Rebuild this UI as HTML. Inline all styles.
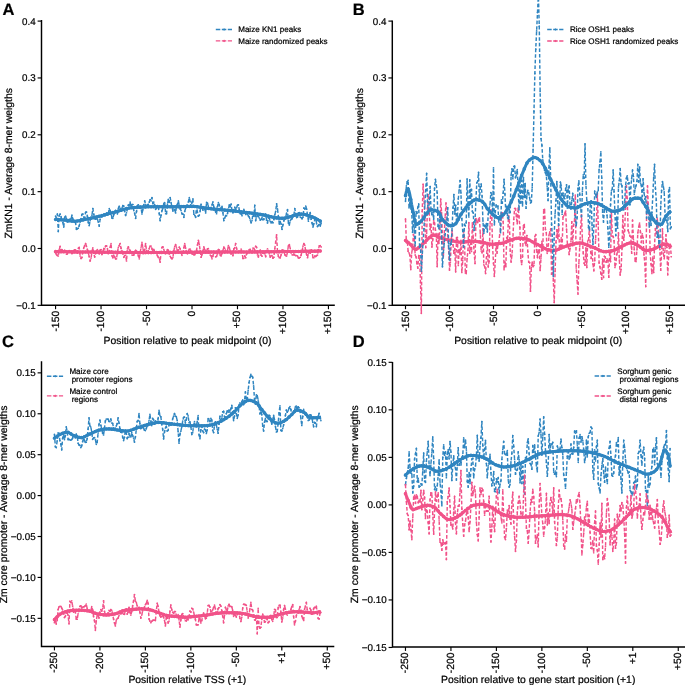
<!DOCTYPE html>
<html><head><meta charset="utf-8"><style>html,body{margin:0;padding:0;background:#fff;width:685px;height:685px;overflow:hidden} svg{display:block}</style></head>
<body>
<svg width="685" height="685" viewBox="0 0 685 685" style="will-change:transform;text-rendering:geometricPrecision" font-family='"Liberation Sans", sans-serif'>
<style>text{fill:#000;stroke:#000;stroke-width:0.22px;paint-order:stroke}</style>
<rect width="685" height="685" fill="#fff"/>
<path d="M41.5,20.0V305.3H334.8" fill="none" stroke="#000" stroke-width="1.45"/>
<path d="M37.60,21.10H41.5" stroke="#000" stroke-width="1.15"/>
<text x="35.60" y="24.50" text-anchor="end" font-size="9.8">0.4</text>
<path d="M37.60,77.95H41.5" stroke="#000" stroke-width="1.15"/>
<text x="35.60" y="81.35" text-anchor="end" font-size="9.8">0.3</text>
<path d="M37.60,134.80H41.5" stroke="#000" stroke-width="1.15"/>
<text x="35.60" y="138.20" text-anchor="end" font-size="9.8">0.2</text>
<path d="M37.60,191.65H41.5" stroke="#000" stroke-width="1.15"/>
<text x="35.60" y="195.05" text-anchor="end" font-size="9.8">0.1</text>
<path d="M37.60,248.50H41.5" stroke="#000" stroke-width="1.15"/>
<text x="35.60" y="251.90" text-anchor="end" font-size="9.8">0.0</text>
<path d="M37.60,305.35H41.5" stroke="#000" stroke-width="1.15"/>
<text x="35.60" y="308.75" text-anchor="end" font-size="9.8">−0.1</text>
<path d="M55.56,305.3V309.20" stroke="#000" stroke-width="1.15"/>
<text transform="translate(58.56,310.80) rotate(-90)" text-anchor="end" font-size="10.4">-150</text>
<path d="M101.04,305.3V309.20" stroke="#000" stroke-width="1.15"/>
<text transform="translate(104.04,310.80) rotate(-90)" text-anchor="end" font-size="10.4">-100</text>
<path d="M146.52,305.3V309.20" stroke="#000" stroke-width="1.15"/>
<text transform="translate(149.52,310.80) rotate(-90)" text-anchor="end" font-size="10.4">-50</text>
<path d="M192.00,305.3V309.20" stroke="#000" stroke-width="1.15"/>
<text transform="translate(195.00,310.80) rotate(-90)" text-anchor="end" font-size="10.4">0</text>
<path d="M237.48,305.3V309.20" stroke="#000" stroke-width="1.15"/>
<text transform="translate(240.48,310.80) rotate(-90)" text-anchor="end" font-size="10.4">+50</text>
<path d="M282.96,305.3V309.20" stroke="#000" stroke-width="1.15"/>
<text transform="translate(285.96,310.80) rotate(-90)" text-anchor="end" font-size="10.4">+100</text>
<path d="M328.44,305.3V309.20" stroke="#000" stroke-width="1.15"/>
<text transform="translate(331.44,310.80) rotate(-90)" text-anchor="end" font-size="10.4">+150</text>
<text x="103.5" y="344.4" font-size="10.4">Position relative to peak midpoint (0)</text>
<text transform="translate(12.4,163.3) rotate(-90)" text-anchor="middle" font-size="10.4">ZmKN1 - Average 8-mer weigths</text>
<text x="2.5" y="14.8" font-size="16.5" font-weight="bold">A</text>
<path d="M392.3,20.5V305.3H685" fill="none" stroke="#000" stroke-width="1.45"/>
<path d="M388.40,21.10H392.3" stroke="#000" stroke-width="1.15"/>
<text x="386.40" y="24.50" text-anchor="end" font-size="9.8">0.4</text>
<path d="M388.40,77.95H392.3" stroke="#000" stroke-width="1.15"/>
<text x="386.40" y="81.35" text-anchor="end" font-size="9.8">0.3</text>
<path d="M388.40,134.80H392.3" stroke="#000" stroke-width="1.15"/>
<text x="386.40" y="138.20" text-anchor="end" font-size="9.8">0.2</text>
<path d="M388.40,191.65H392.3" stroke="#000" stroke-width="1.15"/>
<text x="386.40" y="195.05" text-anchor="end" font-size="9.8">0.1</text>
<path d="M388.40,248.50H392.3" stroke="#000" stroke-width="1.15"/>
<text x="386.40" y="251.90" text-anchor="end" font-size="9.8">0.0</text>
<path d="M388.40,305.35H392.3" stroke="#000" stroke-width="1.15"/>
<text x="386.40" y="308.75" text-anchor="end" font-size="9.8">−0.1</text>
<path d="M405.50,305.3V309.20" stroke="#000" stroke-width="1.15"/>
<text transform="translate(408.50,310.80) rotate(-90)" text-anchor="end" font-size="10.4">-150</text>
<path d="M449.50,305.3V309.20" stroke="#000" stroke-width="1.15"/>
<text transform="translate(452.50,310.80) rotate(-90)" text-anchor="end" font-size="10.4">-100</text>
<path d="M493.50,305.3V309.20" stroke="#000" stroke-width="1.15"/>
<text transform="translate(496.50,310.80) rotate(-90)" text-anchor="end" font-size="10.4">-50</text>
<path d="M537.50,305.3V309.20" stroke="#000" stroke-width="1.15"/>
<text transform="translate(540.50,310.80) rotate(-90)" text-anchor="end" font-size="10.4">0</text>
<path d="M581.50,305.3V309.20" stroke="#000" stroke-width="1.15"/>
<text transform="translate(584.50,310.80) rotate(-90)" text-anchor="end" font-size="10.4">+50</text>
<path d="M625.50,305.3V309.20" stroke="#000" stroke-width="1.15"/>
<text transform="translate(628.50,310.80) rotate(-90)" text-anchor="end" font-size="10.4">+100</text>
<path d="M669.50,305.3V309.20" stroke="#000" stroke-width="1.15"/>
<text transform="translate(672.50,310.80) rotate(-90)" text-anchor="end" font-size="10.4">+150</text>
<text x="454.2" y="344.3" font-size="10.4">Position relative to peak midpoint (0)</text>
<text transform="translate(363.2,163.3) rotate(-90)" text-anchor="middle" font-size="10.4">ZmKN1 - Average 8-mer weigths</text>
<text x="352.8" y="14.8" font-size="16.5" font-weight="bold">B</text>
<path d="M41.5,361.3V646.5H334.3" fill="none" stroke="#000" stroke-width="1.45"/>
<path d="M37.60,372.86H41.5" stroke="#000" stroke-width="1.15"/>
<text x="35.60" y="376.25" text-anchor="end" font-size="9.8">0.15</text>
<path d="M37.60,413.77H41.5" stroke="#000" stroke-width="1.15"/>
<text x="35.60" y="417.17" text-anchor="end" font-size="9.8">0.10</text>
<path d="M37.60,454.69H41.5" stroke="#000" stroke-width="1.15"/>
<text x="35.60" y="458.08" text-anchor="end" font-size="9.8">0.05</text>
<path d="M37.60,495.60H41.5" stroke="#000" stroke-width="1.15"/>
<text x="35.60" y="499.00" text-anchor="end" font-size="9.8">0.00</text>
<path d="M37.60,536.51H41.5" stroke="#000" stroke-width="1.15"/>
<text x="35.60" y="539.91" text-anchor="end" font-size="9.8">−0.05</text>
<path d="M37.60,577.43H41.5" stroke="#000" stroke-width="1.15"/>
<text x="35.60" y="580.83" text-anchor="end" font-size="9.8">−0.10</text>
<path d="M37.60,618.35H41.5" stroke="#000" stroke-width="1.15"/>
<text x="35.60" y="621.75" text-anchor="end" font-size="9.8">−0.15</text>
<path d="M54.45,646.5V650.40" stroke="#000" stroke-width="1.15"/>
<text transform="translate(57.45,652.00) rotate(-90)" text-anchor="end" font-size="10.4">-250</text>
<path d="M99.92,646.5V650.40" stroke="#000" stroke-width="1.15"/>
<text transform="translate(102.92,652.00) rotate(-90)" text-anchor="end" font-size="10.4">-200</text>
<path d="M145.39,646.5V650.40" stroke="#000" stroke-width="1.15"/>
<text transform="translate(148.39,652.00) rotate(-90)" text-anchor="end" font-size="10.4">-150</text>
<path d="M190.86,646.5V650.40" stroke="#000" stroke-width="1.15"/>
<text transform="translate(193.86,652.00) rotate(-90)" text-anchor="end" font-size="10.4">-100</text>
<path d="M236.33,646.5V650.40" stroke="#000" stroke-width="1.15"/>
<text transform="translate(239.33,652.00) rotate(-90)" text-anchor="end" font-size="10.4">-50</text>
<path d="M281.80,646.5V650.40" stroke="#000" stroke-width="1.15"/>
<text transform="translate(284.80,652.00) rotate(-90)" text-anchor="end" font-size="10.4">+1</text>
<path d="M327.27,646.5V650.40" stroke="#000" stroke-width="1.15"/>
<text transform="translate(330.27,652.00) rotate(-90)" text-anchor="end" font-size="10.4">+50</text>
<text x="128.4" y="682.5" font-size="10.4">Position relative TSS (+1)</text>
<text transform="translate(7.0,504.4) rotate(-90)" text-anchor="middle" font-size="10.4">Zm core promoter - Average 8-mer weigths</text>
<text x="2.0" y="346.8" font-size="16.5" font-weight="bold">C</text>
<path d="M392.5,362.0V647H685" fill="none" stroke="#000" stroke-width="1.45"/>
<path d="M388.60,362.32H392.5" stroke="#000" stroke-width="1.15"/>
<text x="386.60" y="365.72" text-anchor="end" font-size="9.8">0.15</text>
<path d="M388.60,409.85H392.5" stroke="#000" stroke-width="1.15"/>
<text x="386.60" y="413.25" text-anchor="end" font-size="9.8">0.10</text>
<path d="M388.60,457.38H392.5" stroke="#000" stroke-width="1.15"/>
<text x="386.60" y="460.77" text-anchor="end" font-size="9.8">0.05</text>
<path d="M388.60,504.90H392.5" stroke="#000" stroke-width="1.15"/>
<text x="386.60" y="508.30" text-anchor="end" font-size="9.8">0.00</text>
<path d="M388.60,552.42H392.5" stroke="#000" stroke-width="1.15"/>
<text x="386.60" y="555.82" text-anchor="end" font-size="9.8">−0.05</text>
<path d="M388.60,599.95H392.5" stroke="#000" stroke-width="1.15"/>
<text x="386.60" y="603.35" text-anchor="end" font-size="9.8">−0.10</text>
<path d="M388.60,647.47H392.5" stroke="#000" stroke-width="1.15"/>
<text x="386.60" y="650.87" text-anchor="end" font-size="9.8">−0.15</text>
<path d="M405.47,647V650.90" stroke="#000" stroke-width="1.15"/>
<text transform="translate(408.47,652.50) rotate(-90)" text-anchor="end" font-size="10.4">-250</text>
<path d="M450.94,647V650.90" stroke="#000" stroke-width="1.15"/>
<text transform="translate(453.94,652.50) rotate(-90)" text-anchor="end" font-size="10.4">-200</text>
<path d="M496.40,647V650.90" stroke="#000" stroke-width="1.15"/>
<text transform="translate(499.40,652.50) rotate(-90)" text-anchor="end" font-size="10.4">-150</text>
<path d="M541.87,647V650.90" stroke="#000" stroke-width="1.15"/>
<text transform="translate(544.87,652.50) rotate(-90)" text-anchor="end" font-size="10.4">-100</text>
<path d="M587.33,647V650.90" stroke="#000" stroke-width="1.15"/>
<text transform="translate(590.33,652.50) rotate(-90)" text-anchor="end" font-size="10.4">-50</text>
<path d="M632.80,647V650.90" stroke="#000" stroke-width="1.15"/>
<text transform="translate(635.80,652.50) rotate(-90)" text-anchor="end" font-size="10.4">+1</text>
<path d="M678.26,647V650.90" stroke="#000" stroke-width="1.15"/>
<text transform="translate(681.26,652.50) rotate(-90)" text-anchor="end" font-size="10.4">+50</text>
<text x="441.0" y="682.5" font-size="10.4">Position relative to gene start position (+1)</text>
<text transform="translate(357.9,504.3) rotate(-90)" text-anchor="middle" font-size="10.4">Zm core promoter - Average 8-mer weigths</text>
<text x="352.8" y="346.8" font-size="16.5" font-weight="bold">D</text>
<polyline points="55.56,216.14 56.47,218.43 57.38,214.05 58.29,231.50 59.20,215.78 60.11,214.05 61.02,216.68 61.93,219.82 62.84,222.52 63.75,227.12 64.66,217.18 65.57,216.21 66.48,218.97 67.38,221.93 68.29,221.58 69.20,219.29 70.11,219.14 71.02,218.91 71.93,215.13 72.84,218.96 73.75,220.78 74.66,221.68 75.57,222.81 76.48,229.34 77.39,228.72 78.30,228.14 79.21,225.73 80.12,222.03 81.03,218.72 81.94,214.41 82.85,214.05 83.76,217.01 84.67,218.15 85.58,212.29 86.49,212.10 87.40,216.16 88.31,222.60 89.22,225.52 90.12,220.69 91.03,217.56 91.94,215.42 92.85,208.59 93.76,214.17 94.67,218.77 95.58,219.18 96.49,216.73 97.40,219.13 98.31,222.10 99.22,226.04 100.13,219.26 101.04,216.81 101.95,216.75 102.86,215.12 103.77,213.99 104.68,214.55 105.59,215.31 106.50,212.99 107.41,213.60 108.32,213.40 109.23,208.59 110.14,210.68 111.05,212.79 111.96,218.18 112.86,218.31 113.77,214.59 114.68,213.07 115.59,210.42 116.50,211.41 117.41,213.83 118.32,208.42 119.23,206.37 120.14,208.39 121.05,211.24 121.96,208.14 122.87,205.56 123.78,206.16 124.69,211.57 125.60,215.40 126.51,212.74 127.42,208.86 128.33,205.00 129.24,205.12 130.15,202.00 131.06,207.28 131.97,204.61 132.88,204.51 133.79,210.60 134.70,213.62 135.60,218.37 136.51,211.47 137.42,205.73 138.33,204.77 139.24,207.55 140.15,206.29 141.06,207.85 141.97,213.88 142.88,209.59 143.79,204.92 144.70,200.92 145.61,204.82 146.52,205.84 147.43,205.03 148.34,204.38 149.25,202.16 150.16,199.64 151.07,200.81 151.98,197.68 152.89,203.59 153.80,202.05 154.71,205.11 155.62,209.28 156.53,207.84 157.44,205.55 158.34,207.13 159.25,213.54 160.16,220.59 161.07,215.16 161.98,210.72 162.89,208.49 163.80,203.24 164.71,202.55 165.62,213.74 166.53,213.74 167.44,204.21 168.35,199.29 169.26,202.35 170.17,197.68 171.08,202.53 171.99,207.34 172.90,210.91 173.81,208.98 174.72,209.86 175.63,212.91 176.54,205.60 177.45,204.31 178.36,200.92 179.27,205.60 180.18,208.90 181.08,210.58 181.99,213.85 182.90,214.07 183.81,217.29 184.72,211.35 185.63,208.15 186.54,205.47 187.45,205.58 188.36,202.02 189.27,197.68 190.18,201.77 191.09,206.73 192.00,202.28 192.91,198.76 193.82,214.13 194.73,215.23 195.64,217.29 196.55,206.02 197.46,212.46 198.37,216.21 199.28,215.24 200.19,210.87 201.10,204.35 202.01,207.85 202.92,210.03 203.82,207.99 204.73,208.70 205.64,212.91 206.55,202.26 207.46,203.13 208.37,206.48 209.28,208.90 210.19,209.01 211.10,207.27 212.01,204.91 212.92,202.00 213.83,207.19 214.74,208.63 215.65,212.10 216.56,213.69 217.47,206.72 218.38,202.49 219.29,204.90 220.20,209.90 221.11,207.53 222.02,206.37 222.93,212.79 223.84,220.59 224.75,218.10 225.66,215.54 226.56,215.69 227.47,213.53 228.38,209.51 229.29,204.75 230.20,206.71 231.11,204.21 232.02,210.33 232.93,212.72 233.84,209.51 234.75,207.28 235.66,209.70 236.57,207.78 237.48,205.29 238.39,204.92 239.30,209.94 240.21,213.60 241.12,213.71 242.03,215.71 242.94,213.34 243.85,209.29 244.76,212.96 245.67,214.39 246.58,212.37 247.49,214.57 248.40,215.94 249.30,217.11 250.21,220.06 251.12,222.75 252.03,220.39 252.94,213.53 253.85,216.13 254.76,205.29 255.67,220.59 256.58,216.79 257.49,215.35 258.40,216.52 259.31,218.05 260.22,220.07 261.13,219.37 262.04,217.31 262.95,219.66 263.86,219.40 264.77,214.56 265.68,214.02 266.59,220.30 267.50,222.93 268.41,217.89 269.32,218.36 270.23,221.51 271.14,222.75 272.04,221.67 272.95,222.67 273.86,219.52 274.77,214.91 275.68,211.24 276.59,203.76 277.50,208.97 278.41,216.69 279.32,224.08 280.23,221.52 281.14,224.20 282.05,229.34 282.96,224.75 283.87,220.80 284.78,218.73 285.69,217.17 286.60,213.19 287.51,209.67 288.42,223.33 289.33,224.96 290.24,220.61 291.15,219.44 292.06,218.63 292.97,216.45 293.88,214.86 294.78,208.59 295.69,213.44 296.60,217.54 297.51,217.10 298.42,212.79 299.33,212.64 300.24,217.10 301.15,217.60 302.06,218.74 302.97,217.04 303.88,208.04 304.79,208.99 305.70,205.98 306.61,209.22 307.52,214.93 308.43,221.23 309.34,215.26 310.25,212.62 311.16,219.17 312.07,222.97 312.98,227.12 313.89,223.60 314.80,219.57 315.71,218.14 316.62,223.78 317.52,226.47 318.43,225.36 319.34,224.42 320.25,226.04 321.16,223.02" fill="none" stroke="#2f85c0" stroke-width="1.45" stroke-dasharray="3.6,2.0" stroke-linejoin="round"/>
<path d="M55.56,216.14h0.01M56.47,218.43h0.01M57.38,214.05h0.01M58.29,231.50h0.01M59.20,215.78h0.01M60.11,214.05h0.01M61.02,216.68h0.01M61.93,219.82h0.01M62.84,222.52h0.01M63.75,227.12h0.01M64.66,217.18h0.01M65.57,216.21h0.01M66.48,218.97h0.01M67.38,221.93h0.01M68.29,221.58h0.01M69.20,219.29h0.01M70.11,219.14h0.01M71.02,218.91h0.01M71.93,215.13h0.01M72.84,218.96h0.01M73.75,220.78h0.01M74.66,221.68h0.01M75.57,222.81h0.01M76.48,229.34h0.01M77.39,228.72h0.01M78.30,228.14h0.01M79.21,225.73h0.01M80.12,222.03h0.01M81.03,218.72h0.01M81.94,214.41h0.01M82.85,214.05h0.01M83.76,217.01h0.01M84.67,218.15h0.01M85.58,212.29h0.01M86.49,212.10h0.01M87.40,216.16h0.01M88.31,222.60h0.01M89.22,225.52h0.01M90.12,220.69h0.01M91.03,217.56h0.01M91.94,215.42h0.01M92.85,208.59h0.01M93.76,214.17h0.01M94.67,218.77h0.01M95.58,219.18h0.01M96.49,216.73h0.01M97.40,219.13h0.01M98.31,222.10h0.01M99.22,226.04h0.01M100.13,219.26h0.01M101.04,216.81h0.01M101.95,216.75h0.01M102.86,215.12h0.01M103.77,213.99h0.01M104.68,214.55h0.01M105.59,215.31h0.01M106.50,212.99h0.01M107.41,213.60h0.01M108.32,213.40h0.01M109.23,208.59h0.01M110.14,210.68h0.01M111.05,212.79h0.01M111.96,218.18h0.01M112.86,218.31h0.01M113.77,214.59h0.01M114.68,213.07h0.01M115.59,210.42h0.01M116.50,211.41h0.01M117.41,213.83h0.01M118.32,208.42h0.01M119.23,206.37h0.01M120.14,208.39h0.01M121.05,211.24h0.01M121.96,208.14h0.01M122.87,205.56h0.01M123.78,206.16h0.01M124.69,211.57h0.01M125.60,215.40h0.01M126.51,212.74h0.01M127.42,208.86h0.01M128.33,205.00h0.01M129.24,205.12h0.01M130.15,202.00h0.01M131.06,207.28h0.01M131.97,204.61h0.01M132.88,204.51h0.01M133.79,210.60h0.01M134.70,213.62h0.01M135.60,218.37h0.01M136.51,211.47h0.01M137.42,205.73h0.01M138.33,204.77h0.01M139.24,207.55h0.01M140.15,206.29h0.01M141.06,207.85h0.01M141.97,213.88h0.01M142.88,209.59h0.01M143.79,204.92h0.01M144.70,200.92h0.01M145.61,204.82h0.01M146.52,205.84h0.01M147.43,205.03h0.01M148.34,204.38h0.01M149.25,202.16h0.01M150.16,199.64h0.01M151.07,200.81h0.01M151.98,197.68h0.01M152.89,203.59h0.01M153.80,202.05h0.01M154.71,205.11h0.01M155.62,209.28h0.01M156.53,207.84h0.01M157.44,205.55h0.01M158.34,207.13h0.01M159.25,213.54h0.01M160.16,220.59h0.01M161.07,215.16h0.01M161.98,210.72h0.01M162.89,208.49h0.01M163.80,203.24h0.01M164.71,202.55h0.01M165.62,213.74h0.01M166.53,213.74h0.01M167.44,204.21h0.01M168.35,199.29h0.01M169.26,202.35h0.01M170.17,197.68h0.01M171.08,202.53h0.01M171.99,207.34h0.01M172.90,210.91h0.01M173.81,208.98h0.01M174.72,209.86h0.01M175.63,212.91h0.01M176.54,205.60h0.01M177.45,204.31h0.01M178.36,200.92h0.01M179.27,205.60h0.01M180.18,208.90h0.01M181.08,210.58h0.01M181.99,213.85h0.01M182.90,214.07h0.01M183.81,217.29h0.01M184.72,211.35h0.01M185.63,208.15h0.01M186.54,205.47h0.01M187.45,205.58h0.01M188.36,202.02h0.01M189.27,197.68h0.01M190.18,201.77h0.01M191.09,206.73h0.01M192.00,202.28h0.01M192.91,198.76h0.01M193.82,214.13h0.01M194.73,215.23h0.01M195.64,217.29h0.01M196.55,206.02h0.01M197.46,212.46h0.01M198.37,216.21h0.01M199.28,215.24h0.01M200.19,210.87h0.01M201.10,204.35h0.01M202.01,207.85h0.01M202.92,210.03h0.01M203.82,207.99h0.01M204.73,208.70h0.01M205.64,212.91h0.01M206.55,202.26h0.01M207.46,203.13h0.01M208.37,206.48h0.01M209.28,208.90h0.01M210.19,209.01h0.01M211.10,207.27h0.01M212.01,204.91h0.01M212.92,202.00h0.01M213.83,207.19h0.01M214.74,208.63h0.01M215.65,212.10h0.01M216.56,213.69h0.01M217.47,206.72h0.01M218.38,202.49h0.01M219.29,204.90h0.01M220.20,209.90h0.01M221.11,207.53h0.01M222.02,206.37h0.01M222.93,212.79h0.01M223.84,220.59h0.01M224.75,218.10h0.01M225.66,215.54h0.01M226.56,215.69h0.01M227.47,213.53h0.01M228.38,209.51h0.01M229.29,204.75h0.01M230.20,206.71h0.01M231.11,204.21h0.01M232.02,210.33h0.01M232.93,212.72h0.01M233.84,209.51h0.01M234.75,207.28h0.01M235.66,209.70h0.01M236.57,207.78h0.01M237.48,205.29h0.01M238.39,204.92h0.01M239.30,209.94h0.01M240.21,213.60h0.01M241.12,213.71h0.01M242.03,215.71h0.01M242.94,213.34h0.01M243.85,209.29h0.01M244.76,212.96h0.01M245.67,214.39h0.01M246.58,212.37h0.01M247.49,214.57h0.01M248.40,215.94h0.01M249.30,217.11h0.01M250.21,220.06h0.01M251.12,222.75h0.01M252.03,220.39h0.01M252.94,213.53h0.01M253.85,216.13h0.01M254.76,205.29h0.01M255.67,220.59h0.01M256.58,216.79h0.01M257.49,215.35h0.01M258.40,216.52h0.01M259.31,218.05h0.01M260.22,220.07h0.01M261.13,219.37h0.01M262.04,217.31h0.01M262.95,219.66h0.01M263.86,219.40h0.01M264.77,214.56h0.01M265.68,214.02h0.01M266.59,220.30h0.01M267.50,222.93h0.01M268.41,217.89h0.01M269.32,218.36h0.01M270.23,221.51h0.01M271.14,222.75h0.01M272.04,221.67h0.01M272.95,222.67h0.01M273.86,219.52h0.01M274.77,214.91h0.01M275.68,211.24h0.01M276.59,203.76h0.01M277.50,208.97h0.01M278.41,216.69h0.01M279.32,224.08h0.01M280.23,221.52h0.01M281.14,224.20h0.01M282.05,229.34h0.01M282.96,224.75h0.01M283.87,220.80h0.01M284.78,218.73h0.01M285.69,217.17h0.01M286.60,213.19h0.01M287.51,209.67h0.01M288.42,223.33h0.01M289.33,224.96h0.01M290.24,220.61h0.01M291.15,219.44h0.01M292.06,218.63h0.01M292.97,216.45h0.01M293.88,214.86h0.01M294.78,208.59h0.01M295.69,213.44h0.01M296.60,217.54h0.01M297.51,217.10h0.01M298.42,212.79h0.01M299.33,212.64h0.01M300.24,217.10h0.01M301.15,217.60h0.01M302.06,218.74h0.01M302.97,217.04h0.01M303.88,208.04h0.01M304.79,208.99h0.01M305.70,205.98h0.01M306.61,209.22h0.01M307.52,214.93h0.01M308.43,221.23h0.01M309.34,215.26h0.01M310.25,212.62h0.01M311.16,219.17h0.01M312.07,222.97h0.01M312.98,227.12h0.01M313.89,223.60h0.01M314.80,219.57h0.01M315.71,218.14h0.01M316.62,223.78h0.01M317.52,226.47h0.01M318.43,225.36h0.01M319.34,224.42h0.01M320.25,226.04h0.01M321.16,223.02h0.01" stroke="#2f85c0" stroke-width="1.7" stroke-linecap="round" fill="none"/>
<polyline points="55.56,219.55 56.47,219.58 57.38,219.61 58.29,219.66 59.20,219.71 60.11,219.76 61.02,219.82 61.93,219.88 62.84,219.94 63.75,220.01 64.66,220.07 65.57,220.16 66.48,220.28 67.38,220.42 68.29,220.57 69.20,220.73 70.11,220.88 71.02,221.01 71.93,221.12 72.84,221.19 73.75,221.21 74.66,221.19 75.57,221.14 76.48,221.06 77.39,220.95 78.30,220.82 79.21,220.66 80.12,220.49 81.03,220.31 81.94,220.11 82.85,219.91 83.76,219.71 84.67,219.51 85.58,219.31 86.49,219.12 87.40,218.94 88.31,218.76 89.22,218.58 90.12,218.39 91.03,218.20 91.94,218.01 92.85,217.81 93.76,217.60 94.67,217.40 95.58,217.19 96.49,216.97 97.40,216.76 98.31,216.54 99.22,216.32 100.13,216.10 101.04,215.87 101.95,215.63 102.86,215.40 103.77,215.15 104.68,214.90 105.59,214.65 106.50,214.39 107.41,214.14 108.32,213.88 109.23,213.62 110.14,213.36 111.05,213.11 111.96,212.85 112.86,212.60 113.77,212.36 114.68,212.12 115.59,211.87 116.50,211.61 117.41,211.35 118.32,211.07 119.23,210.79 120.14,210.51 121.05,210.23 121.96,209.95 122.87,209.67 123.78,209.40 124.69,209.14 125.60,208.89 126.51,208.65 127.42,208.43 128.33,208.23 129.24,208.04 130.15,207.89 131.06,207.75 131.97,207.64 132.88,207.57 133.79,207.51 134.70,207.45 135.60,207.39 136.51,207.34 137.42,207.28 138.33,207.23 139.24,207.18 140.15,207.14 141.06,207.09 141.97,207.05 142.88,207.01 143.79,206.97 144.70,206.93 145.61,206.90 146.52,206.87 147.43,206.84 148.34,206.82 149.25,206.79 150.16,206.77 151.07,206.76 151.98,206.74 152.89,206.73 153.80,206.72 154.71,206.72 155.62,206.72 156.53,206.72 157.44,206.72 158.34,206.72 159.25,206.72 160.16,206.72 161.07,206.72 161.98,206.72 162.89,206.72 163.80,206.72 164.71,206.72 165.62,206.72 166.53,206.72 167.44,206.72 168.35,206.72 169.26,206.72 170.17,206.72 171.08,206.72 171.99,206.72 172.90,206.72 173.81,206.72 174.72,206.72 175.63,206.72 176.54,206.72 177.45,206.71 178.36,206.70 179.27,206.69 180.18,206.68 181.08,206.66 181.99,206.63 182.90,206.61 183.81,206.59 184.72,206.56 185.63,206.54 186.54,206.51 187.45,206.49 188.36,206.47 189.27,206.45 190.18,206.44 191.09,206.43 192.00,206.43 192.91,206.44 193.82,206.48 194.73,206.53 195.64,206.60 196.55,206.69 197.46,206.80 198.37,206.91 199.28,207.04 200.19,207.18 201.10,207.32 202.01,207.47 202.92,207.62 203.82,207.77 204.73,207.92 205.64,208.07 206.55,208.21 207.46,208.35 208.37,208.48 209.28,208.60 210.19,208.70 211.10,208.80 212.01,208.90 212.92,208.99 213.83,209.08 214.74,209.17 215.65,209.26 216.56,209.34 217.47,209.43 218.38,209.51 219.29,209.60 220.20,209.68 221.11,209.76 222.02,209.84 222.93,209.92 223.84,210.00 224.75,210.09 225.66,210.17 226.56,210.25 227.47,210.34 228.38,210.42 229.29,210.51 230.20,210.60 231.11,210.69 232.02,210.78 232.93,210.88 233.84,210.98 234.75,211.08 235.66,211.18 236.57,211.28 237.48,211.39 238.39,211.49 239.30,211.60 240.21,211.71 241.12,211.81 242.03,211.92 242.94,212.03 243.85,212.14 244.76,212.26 245.67,212.37 246.58,212.49 247.49,212.60 248.40,212.72 249.30,212.84 250.21,212.96 251.12,213.09 252.03,213.21 252.94,213.33 253.85,213.46 254.76,213.59 255.67,213.72 256.58,213.85 257.49,213.98 258.40,214.12 259.31,214.25 260.22,214.39 261.13,214.54 262.04,214.70 262.95,214.88 263.86,215.07 264.77,215.27 265.68,215.48 266.59,215.69 267.50,215.91 268.41,216.14 269.32,216.36 270.23,216.58 271.14,216.79 272.04,217.01 272.95,217.21 273.86,217.40 274.77,217.58 275.68,217.75 276.59,217.90 277.50,218.04 278.41,218.15 279.32,218.24 280.23,218.31 281.14,218.35 282.05,218.37 282.96,218.34 283.87,218.26 284.78,218.13 285.69,217.96 286.60,217.76 287.51,217.52 288.42,217.26 289.33,216.98 290.24,216.69 291.15,216.39 292.06,216.09 292.97,215.78 293.88,215.49 294.78,215.21 295.69,214.95 296.60,214.72 297.51,214.51 298.42,214.34 299.33,214.21 300.24,214.13 301.15,214.11 302.06,214.13 302.97,214.22 303.88,214.35 304.79,214.53 305.70,214.74 306.61,214.99 307.52,215.27 308.43,215.57 309.34,215.89 310.25,216.22 311.16,216.56 312.07,216.90 312.98,217.23 313.89,217.59 314.80,218.00 315.71,218.45 316.62,218.93 317.52,219.46 318.43,220.01 319.34,220.58 320.25,221.17 321.16,221.78" fill="none" stroke="#2f85c0" stroke-width="3.0" stroke-linejoin="round"/>
<path d="M55.56,219.55h0.01M58.29,219.66h0.01M61.02,219.82h0.01M63.75,220.01h0.01M66.48,220.28h0.01M69.20,220.73h0.01M71.93,221.12h0.01M74.66,221.19h0.01M77.39,220.95h0.01M80.12,220.49h0.01M82.85,219.91h0.01M85.58,219.31h0.01M88.31,218.76h0.01M91.03,218.20h0.01M93.76,217.60h0.01M96.49,216.97h0.01M99.22,216.32h0.01M101.95,215.63h0.01M104.68,214.90h0.01M107.41,214.14h0.01M110.14,213.36h0.01M112.86,212.60h0.01M115.59,211.87h0.01M118.32,211.07h0.01M121.05,210.23h0.01M123.78,209.40h0.01M126.51,208.65h0.01M129.24,208.04h0.01M131.97,207.64h0.01M134.70,207.45h0.01M137.42,207.28h0.01M140.15,207.14h0.01M142.88,207.01h0.01M145.61,206.90h0.01M148.34,206.82h0.01M151.07,206.76h0.01M153.80,206.72h0.01M156.53,206.72h0.01M159.25,206.72h0.01M161.98,206.72h0.01M164.71,206.72h0.01M167.44,206.72h0.01M170.17,206.72h0.01M172.90,206.72h0.01M175.63,206.72h0.01M178.36,206.70h0.01M181.08,206.66h0.01M183.81,206.59h0.01M186.54,206.51h0.01M189.27,206.45h0.01M192.00,206.43h0.01M194.73,206.53h0.01M197.46,206.80h0.01M200.19,207.18h0.01M202.92,207.62h0.01M205.64,208.07h0.01M208.37,208.48h0.01M211.10,208.80h0.01M213.83,209.08h0.01M216.56,209.34h0.01M219.29,209.60h0.01M222.02,209.84h0.01M224.75,210.09h0.01M227.47,210.34h0.01M230.20,210.60h0.01M232.93,210.88h0.01M235.66,211.18h0.01M238.39,211.49h0.01M241.12,211.81h0.01M243.85,212.14h0.01M246.58,212.49h0.01M249.30,212.84h0.01M252.03,213.21h0.01M254.76,213.59h0.01M257.49,213.98h0.01M260.22,214.39h0.01M262.95,214.88h0.01M265.68,215.48h0.01M268.41,216.14h0.01M271.14,216.79h0.01M273.86,217.40h0.01M276.59,217.90h0.01M279.32,218.24h0.01M282.05,218.37h0.01M284.78,218.13h0.01M287.51,217.52h0.01M290.24,216.69h0.01M292.97,215.78h0.01M295.69,214.95h0.01M298.42,214.34h0.01M301.15,214.11h0.01M303.88,214.35h0.01M306.61,214.99h0.01M309.34,215.89h0.01M312.07,216.90h0.01M314.80,218.00h0.01M317.52,219.46h0.01M320.25,221.17h0.01" stroke="#2f85c0" stroke-width="3.6" stroke-linecap="round" fill="none"/>
<polyline points="55.56,252.57 56.47,254.59 57.38,255.55 58.29,256.00 59.20,249.88 60.11,246.44 61.02,249.93 61.93,249.62 62.84,250.64 63.75,251.53 64.66,250.23 65.57,251.73 66.48,254.24 67.38,253.83 68.29,251.78 69.20,250.70 70.11,251.29 71.02,252.60 71.93,253.59 72.84,253.00 73.75,250.51 74.66,249.73 75.57,250.14 76.48,251.71 77.39,253.08 78.30,248.29 79.21,247.40 80.12,256.08 81.03,258.45 81.94,257.42 82.85,251.56 83.76,247.87 84.67,245.44 85.58,243.50 86.49,246.44 87.40,249.65 88.31,252.94 89.22,256.71 90.12,261.01 91.03,258.08 91.94,251.79 92.85,247.80 93.76,253.24 94.67,257.00 95.58,253.86 96.49,250.55 97.40,249.61 98.31,251.41 99.22,253.98 100.13,250.20 101.04,249.71 101.95,254.51 102.86,252.07 103.77,248.49 104.68,248.89 105.59,246.01 106.50,245.77 107.41,248.57 108.32,253.75 109.23,251.84 110.14,247.25 111.05,243.50 111.96,255.70 112.86,257.71 113.77,255.21 114.68,256.79 115.59,258.84 116.50,258.85 117.41,252.33 118.32,247.42 119.23,245.57 120.14,243.50 121.05,248.15 121.96,250.49 122.87,253.74 123.78,257.30 124.69,255.58 125.60,255.28 126.51,261.01 127.42,248.78 128.33,246.79 129.24,249.85 130.15,250.27 131.06,252.63 131.97,254.98 132.88,255.24 133.79,255.00 134.70,251.71 135.60,250.30 136.51,251.32 137.42,252.30 138.33,255.84 139.24,258.79 140.15,252.49 141.06,247.77 141.97,242.42 142.88,247.95 143.79,253.59 144.70,249.40 145.61,243.50 146.52,250.25 147.43,252.67 148.34,250.57 149.25,248.59 150.16,246.11 151.07,246.10 151.98,248.90 152.89,250.79 153.80,249.44 154.71,251.52 155.62,252.65 156.53,253.37 157.44,255.64 158.34,257.45 159.25,257.99 160.16,262.09 161.07,251.83 161.98,247.38 162.89,246.79 163.80,249.29 164.71,253.00 165.62,253.86 166.53,251.96 167.44,249.54 168.35,250.13 169.26,253.94 170.17,256.26 171.08,257.78 171.99,258.79 172.90,257.56 173.81,250.91 174.72,246.44 175.63,244.58 176.54,247.91 177.45,250.95 178.36,249.89 179.27,247.20 180.18,248.83 181.08,252.26 181.99,255.32 182.90,253.15 183.81,247.94 184.72,243.50 185.63,248.21 186.54,252.84 187.45,253.81 188.36,251.40 189.27,249.06 190.18,249.07 191.09,251.49 192.00,253.96 192.91,254.18 193.82,254.75 194.73,254.75 195.64,253.23 196.55,250.18 197.46,245.01 198.37,240.26 199.28,244.38 200.19,250.77 201.10,257.21 202.01,254.62 202.92,251.29 203.82,246.79 204.73,249.74 205.64,251.05 206.55,251.85 207.46,248.90 208.37,248.63 209.28,251.97 210.19,255.10 211.10,255.81 212.01,258.79 212.92,256.03 213.83,251.54 214.74,251.99 215.65,256.73 216.56,256.28 217.47,253.88 218.38,249.56 219.29,249.80 220.20,255.28 221.11,255.96 222.02,253.37 222.93,250.48 223.84,247.12 224.75,248.27 225.66,251.02 226.56,252.10 227.47,250.57 228.38,245.71 229.29,247.40 230.20,251.01 231.11,253.91 232.02,252.48 232.93,255.55 233.84,248.94 234.75,247.71 235.66,243.50 236.57,248.47 237.48,251.94 238.39,251.64 239.30,251.41 240.21,251.23 241.12,249.07 242.03,251.72 242.94,258.47 243.85,258.32 244.76,255.96 245.67,257.71 246.58,254.11 247.49,253.08 248.40,251.49 249.30,249.69 250.21,249.47 251.12,252.00 252.03,252.63 252.94,248.07 253.85,248.26 254.76,250.42 255.67,246.28 256.58,247.34 257.49,254.90 258.40,256.96 259.31,251.91 260.22,250.22 261.13,255.24 262.04,256.11 262.95,252.02 263.86,253.37 264.77,253.64 265.68,256.63 266.59,251.54 267.50,248.76 268.41,250.81 269.32,253.78 270.23,257.08 271.14,255.70 272.04,255.51 272.95,258.22 273.86,257.21 274.77,248.83 275.68,241.86 276.59,234.80 277.50,251.78 278.41,256.31 279.32,257.71 280.23,257.90 281.14,254.74 282.05,250.19 282.96,250.09 283.87,251.68 284.78,254.66 285.69,255.63 286.60,256.12 287.51,251.74 288.42,245.63 289.33,244.58 290.24,248.61 291.15,252.76 292.06,254.76 292.97,255.00 293.88,254.10 294.78,255.00 295.69,255.74 296.60,255.50 297.51,256.07 298.42,257.91 299.33,257.90 300.24,257.25 301.15,255.05 302.06,251.14 302.97,246.17 303.88,243.50 304.79,245.20 305.70,251.44 306.61,254.51 307.52,257.71 308.43,253.08 309.34,251.22 310.25,253.21 311.16,249.87 312.07,251.63 312.98,257.68 313.89,257.67 314.80,256.09 315.71,256.49 316.62,255.55 317.52,255.10 318.43,249.62 319.34,245.79 320.25,245.71 321.16,246.96" fill="none" stroke="#f15289" stroke-width="1.45" stroke-dasharray="3.6,2.0" stroke-linejoin="round"/>
<path d="M55.56,252.57h0.01M56.47,254.59h0.01M57.38,255.55h0.01M58.29,256.00h0.01M59.20,249.88h0.01M60.11,246.44h0.01M61.02,249.93h0.01M61.93,249.62h0.01M62.84,250.64h0.01M63.75,251.53h0.01M64.66,250.23h0.01M65.57,251.73h0.01M66.48,254.24h0.01M67.38,253.83h0.01M68.29,251.78h0.01M69.20,250.70h0.01M70.11,251.29h0.01M71.02,252.60h0.01M71.93,253.59h0.01M72.84,253.00h0.01M73.75,250.51h0.01M74.66,249.73h0.01M75.57,250.14h0.01M76.48,251.71h0.01M77.39,253.08h0.01M78.30,248.29h0.01M79.21,247.40h0.01M80.12,256.08h0.01M81.03,258.45h0.01M81.94,257.42h0.01M82.85,251.56h0.01M83.76,247.87h0.01M84.67,245.44h0.01M85.58,243.50h0.01M86.49,246.44h0.01M87.40,249.65h0.01M88.31,252.94h0.01M89.22,256.71h0.01M90.12,261.01h0.01M91.03,258.08h0.01M91.94,251.79h0.01M92.85,247.80h0.01M93.76,253.24h0.01M94.67,257.00h0.01M95.58,253.86h0.01M96.49,250.55h0.01M97.40,249.61h0.01M98.31,251.41h0.01M99.22,253.98h0.01M100.13,250.20h0.01M101.04,249.71h0.01M101.95,254.51h0.01M102.86,252.07h0.01M103.77,248.49h0.01M104.68,248.89h0.01M105.59,246.01h0.01M106.50,245.77h0.01M107.41,248.57h0.01M108.32,253.75h0.01M109.23,251.84h0.01M110.14,247.25h0.01M111.05,243.50h0.01M111.96,255.70h0.01M112.86,257.71h0.01M113.77,255.21h0.01M114.68,256.79h0.01M115.59,258.84h0.01M116.50,258.85h0.01M117.41,252.33h0.01M118.32,247.42h0.01M119.23,245.57h0.01M120.14,243.50h0.01M121.05,248.15h0.01M121.96,250.49h0.01M122.87,253.74h0.01M123.78,257.30h0.01M124.69,255.58h0.01M125.60,255.28h0.01M126.51,261.01h0.01M127.42,248.78h0.01M128.33,246.79h0.01M129.24,249.85h0.01M130.15,250.27h0.01M131.06,252.63h0.01M131.97,254.98h0.01M132.88,255.24h0.01M133.79,255.00h0.01M134.70,251.71h0.01M135.60,250.30h0.01M136.51,251.32h0.01M137.42,252.30h0.01M138.33,255.84h0.01M139.24,258.79h0.01M140.15,252.49h0.01M141.06,247.77h0.01M141.97,242.42h0.01M142.88,247.95h0.01M143.79,253.59h0.01M144.70,249.40h0.01M145.61,243.50h0.01M146.52,250.25h0.01M147.43,252.67h0.01M148.34,250.57h0.01M149.25,248.59h0.01M150.16,246.11h0.01M151.07,246.10h0.01M151.98,248.90h0.01M152.89,250.79h0.01M153.80,249.44h0.01M154.71,251.52h0.01M155.62,252.65h0.01M156.53,253.37h0.01M157.44,255.64h0.01M158.34,257.45h0.01M159.25,257.99h0.01M160.16,262.09h0.01M161.07,251.83h0.01M161.98,247.38h0.01M162.89,246.79h0.01M163.80,249.29h0.01M164.71,253.00h0.01M165.62,253.86h0.01M166.53,251.96h0.01M167.44,249.54h0.01M168.35,250.13h0.01M169.26,253.94h0.01M170.17,256.26h0.01M171.08,257.78h0.01M171.99,258.79h0.01M172.90,257.56h0.01M173.81,250.91h0.01M174.72,246.44h0.01M175.63,244.58h0.01M176.54,247.91h0.01M177.45,250.95h0.01M178.36,249.89h0.01M179.27,247.20h0.01M180.18,248.83h0.01M181.08,252.26h0.01M181.99,255.32h0.01M182.90,253.15h0.01M183.81,247.94h0.01M184.72,243.50h0.01M185.63,248.21h0.01M186.54,252.84h0.01M187.45,253.81h0.01M188.36,251.40h0.01M189.27,249.06h0.01M190.18,249.07h0.01M191.09,251.49h0.01M192.00,253.96h0.01M192.91,254.18h0.01M193.82,254.75h0.01M194.73,254.75h0.01M195.64,253.23h0.01M196.55,250.18h0.01M197.46,245.01h0.01M198.37,240.26h0.01M199.28,244.38h0.01M200.19,250.77h0.01M201.10,257.21h0.01M202.01,254.62h0.01M202.92,251.29h0.01M203.82,246.79h0.01M204.73,249.74h0.01M205.64,251.05h0.01M206.55,251.85h0.01M207.46,248.90h0.01M208.37,248.63h0.01M209.28,251.97h0.01M210.19,255.10h0.01M211.10,255.81h0.01M212.01,258.79h0.01M212.92,256.03h0.01M213.83,251.54h0.01M214.74,251.99h0.01M215.65,256.73h0.01M216.56,256.28h0.01M217.47,253.88h0.01M218.38,249.56h0.01M219.29,249.80h0.01M220.20,255.28h0.01M221.11,255.96h0.01M222.02,253.37h0.01M222.93,250.48h0.01M223.84,247.12h0.01M224.75,248.27h0.01M225.66,251.02h0.01M226.56,252.10h0.01M227.47,250.57h0.01M228.38,245.71h0.01M229.29,247.40h0.01M230.20,251.01h0.01M231.11,253.91h0.01M232.02,252.48h0.01M232.93,255.55h0.01M233.84,248.94h0.01M234.75,247.71h0.01M235.66,243.50h0.01M236.57,248.47h0.01M237.48,251.94h0.01M238.39,251.64h0.01M239.30,251.41h0.01M240.21,251.23h0.01M241.12,249.07h0.01M242.03,251.72h0.01M242.94,258.47h0.01M243.85,258.32h0.01M244.76,255.96h0.01M245.67,257.71h0.01M246.58,254.11h0.01M247.49,253.08h0.01M248.40,251.49h0.01M249.30,249.69h0.01M250.21,249.47h0.01M251.12,252.00h0.01M252.03,252.63h0.01M252.94,248.07h0.01M253.85,248.26h0.01M254.76,250.42h0.01M255.67,246.28h0.01M256.58,247.34h0.01M257.49,254.90h0.01M258.40,256.96h0.01M259.31,251.91h0.01M260.22,250.22h0.01M261.13,255.24h0.01M262.04,256.11h0.01M262.95,252.02h0.01M263.86,253.37h0.01M264.77,253.64h0.01M265.68,256.63h0.01M266.59,251.54h0.01M267.50,248.76h0.01M268.41,250.81h0.01M269.32,253.78h0.01M270.23,257.08h0.01M271.14,255.70h0.01M272.04,255.51h0.01M272.95,258.22h0.01M273.86,257.21h0.01M274.77,248.83h0.01M275.68,241.86h0.01M276.59,234.80h0.01M277.50,251.78h0.01M278.41,256.31h0.01M279.32,257.71h0.01M280.23,257.90h0.01M281.14,254.74h0.01M282.05,250.19h0.01M282.96,250.09h0.01M283.87,251.68h0.01M284.78,254.66h0.01M285.69,255.63h0.01M286.60,256.12h0.01M287.51,251.74h0.01M288.42,245.63h0.01M289.33,244.58h0.01M290.24,248.61h0.01M291.15,252.76h0.01M292.06,254.76h0.01M292.97,255.00h0.01M293.88,254.10h0.01M294.78,255.00h0.01M295.69,255.74h0.01M296.60,255.50h0.01M297.51,256.07h0.01M298.42,257.91h0.01M299.33,257.90h0.01M300.24,257.25h0.01M301.15,255.05h0.01M302.06,251.14h0.01M302.97,246.17h0.01M303.88,243.50h0.01M304.79,245.20h0.01M305.70,251.44h0.01M306.61,254.51h0.01M307.52,257.71h0.01M308.43,253.08h0.01M309.34,251.22h0.01M310.25,253.21h0.01M311.16,249.87h0.01M312.07,251.63h0.01M312.98,257.68h0.01M313.89,257.67h0.01M314.80,256.09h0.01M315.71,256.49h0.01M316.62,255.55h0.01M317.52,255.10h0.01M318.43,249.62h0.01M319.34,245.79h0.01M320.25,245.71h0.01M321.16,246.96h0.01" stroke="#f15289" stroke-width="1.7" stroke-linecap="round" fill="none"/>
<polyline points="55.56,251.63 56.47,251.64 57.38,251.65 58.29,251.67 59.20,251.68 60.11,251.69 61.02,251.70 61.93,251.72 62.84,251.73 63.75,251.74 64.66,251.75 65.57,251.77 66.48,251.78 67.38,251.79 68.29,251.80 69.20,251.82 70.11,251.83 71.02,251.84 71.93,251.85 72.84,251.86 73.75,251.88 74.66,251.89 75.57,251.90 76.48,251.91 77.39,251.92 78.30,251.93 79.21,251.95 80.12,251.96 81.03,251.97 81.94,251.98 82.85,251.99 83.76,252.00 84.67,252.01 85.58,252.02 86.49,252.03 87.40,252.04 88.31,252.06 89.22,252.07 90.12,252.08 91.03,252.09 91.94,252.10 92.85,252.11 93.76,252.12 94.67,252.13 95.58,252.14 96.49,252.15 97.40,252.16 98.31,252.17 99.22,252.18 100.13,252.19 101.04,252.20 101.95,252.20 102.86,252.21 103.77,252.22 104.68,252.23 105.59,252.24 106.50,252.25 107.41,252.26 108.32,252.28 109.23,252.29 110.14,252.30 111.05,252.31 111.96,252.32 112.86,252.33 113.77,252.34 114.68,252.35 115.59,252.36 116.50,252.37 117.41,252.38 118.32,252.39 119.23,252.40 120.14,252.41 121.05,252.42 121.96,252.43 122.87,252.44 123.78,252.45 124.69,252.46 125.60,252.47 126.51,252.48 127.42,252.49 128.33,252.50 129.24,252.51 130.15,252.51 131.06,252.52 131.97,252.53 132.88,252.54 133.79,252.54 134.70,252.55 135.60,252.56 136.51,252.56 137.42,252.57 138.33,252.57 139.24,252.58 140.15,252.58 141.06,252.58 141.97,252.59 142.88,252.59 143.79,252.59 144.70,252.59 145.61,252.59 146.52,252.59 147.43,252.59 148.34,252.59 149.25,252.59 150.16,252.59 151.07,252.58 151.98,252.58 152.89,252.58 153.80,252.57 154.71,252.57 155.62,252.56 156.53,252.55 157.44,252.55 158.34,252.54 159.25,252.53 160.16,252.52 161.07,252.51 161.98,252.50 162.89,252.50 163.80,252.49 164.71,252.48 165.62,252.47 166.53,252.46 167.44,252.45 168.35,252.43 169.26,252.42 170.17,252.41 171.08,252.40 171.99,252.39 172.90,252.38 173.81,252.37 174.72,252.36 175.63,252.35 176.54,252.34 177.45,252.33 178.36,252.32 179.27,252.31 180.18,252.30 181.08,252.29 181.99,252.28 182.90,252.27 183.81,252.26 184.72,252.25 185.63,252.24 186.54,252.23 187.45,252.23 188.36,252.22 189.27,252.21 190.18,252.21 191.09,252.20 192.00,252.20 192.91,252.19 193.82,252.19 194.73,252.18 195.64,252.18 196.55,252.17 197.46,252.17 198.37,252.17 199.28,252.16 200.19,252.16 201.10,252.15 202.01,252.15 202.92,252.15 203.82,252.14 204.73,252.14 205.64,252.14 206.55,252.14 207.46,252.13 208.37,252.13 209.28,252.13 210.19,252.12 211.10,252.12 212.01,252.12 212.92,252.12 213.83,252.11 214.74,252.11 215.65,252.11 216.56,252.10 217.47,252.10 218.38,252.10 219.29,252.10 220.20,252.09 221.11,252.09 222.02,252.09 222.93,252.08 223.84,252.08 224.75,252.08 225.66,252.08 226.56,252.07 227.47,252.07 228.38,252.07 229.29,252.06 230.20,252.06 231.11,252.05 232.02,252.05 232.93,252.05 233.84,252.04 234.75,252.04 235.66,252.03 236.57,252.03 237.48,252.02 238.39,252.02 239.30,252.01 240.21,252.01 241.12,252.00 242.03,252.00 242.94,251.99 243.85,251.99 244.76,251.98 245.67,251.98 246.58,251.97 247.49,251.96 248.40,251.96 249.30,251.95 250.21,251.94 251.12,251.94 252.03,251.93 252.94,251.92 253.85,251.91 254.76,251.91 255.67,251.90 256.58,251.89 257.49,251.88 258.40,251.88 259.31,251.87 260.22,251.86 261.13,251.85 262.04,251.84 262.95,251.83 263.86,251.83 264.77,251.82 265.68,251.81 266.59,251.80 267.50,251.79 268.41,251.78 269.32,251.77 270.23,251.76 271.14,251.75 272.04,251.74 272.95,251.73 273.86,251.73 274.77,251.72 275.68,251.71 276.59,251.70 277.50,251.69 278.41,251.68 279.32,251.67 280.23,251.66 281.14,251.65 282.05,251.64 282.96,251.63 283.87,251.62 284.78,251.61 285.69,251.60 286.60,251.58 287.51,251.57 288.42,251.56 289.33,251.55 290.24,251.54 291.15,251.53 292.06,251.52 292.97,251.50 293.88,251.49 294.78,251.48 295.69,251.47 296.60,251.45 297.51,251.44 298.42,251.43 299.33,251.41 300.24,251.40 301.15,251.39 302.06,251.37 302.97,251.36 303.88,251.35 304.79,251.33 305.70,251.32 306.61,251.30 307.52,251.29 308.43,251.27 309.34,251.26 310.25,251.24 311.16,251.23 312.07,251.21 312.98,251.20 313.89,251.18 314.80,251.17 315.71,251.15 316.62,251.14 317.52,251.12 318.43,251.11 319.34,251.09 320.25,251.07 321.16,251.06" fill="none" stroke="#f15289" stroke-width="3.0" stroke-linejoin="round"/>
<path d="M55.56,251.63h0.01M58.29,251.67h0.01M61.02,251.70h0.01M63.75,251.74h0.01M66.48,251.78h0.01M69.20,251.82h0.01M71.93,251.85h0.01M74.66,251.89h0.01M77.39,251.92h0.01M80.12,251.96h0.01M82.85,251.99h0.01M85.58,252.02h0.01M88.31,252.06h0.01M91.03,252.09h0.01M93.76,252.12h0.01M96.49,252.15h0.01M99.22,252.18h0.01M101.95,252.20h0.01M104.68,252.23h0.01M107.41,252.26h0.01M110.14,252.30h0.01M112.86,252.33h0.01M115.59,252.36h0.01M118.32,252.39h0.01M121.05,252.42h0.01M123.78,252.45h0.01M126.51,252.48h0.01M129.24,252.51h0.01M131.97,252.53h0.01M134.70,252.55h0.01M137.42,252.57h0.01M140.15,252.58h0.01M142.88,252.59h0.01M145.61,252.59h0.01M148.34,252.59h0.01M151.07,252.58h0.01M153.80,252.57h0.01M156.53,252.55h0.01M159.25,252.53h0.01M161.98,252.50h0.01M164.71,252.48h0.01M167.44,252.45h0.01M170.17,252.41h0.01M172.90,252.38h0.01M175.63,252.35h0.01M178.36,252.32h0.01M181.08,252.29h0.01M183.81,252.26h0.01M186.54,252.23h0.01M189.27,252.21h0.01M192.00,252.20h0.01M194.73,252.18h0.01M197.46,252.17h0.01M200.19,252.16h0.01M202.92,252.15h0.01M205.64,252.14h0.01M208.37,252.13h0.01M211.10,252.12h0.01M213.83,252.11h0.01M216.56,252.10h0.01M219.29,252.10h0.01M222.02,252.09h0.01M224.75,252.08h0.01M227.47,252.07h0.01M230.20,252.06h0.01M232.93,252.05h0.01M235.66,252.03h0.01M238.39,252.02h0.01M241.12,252.00h0.01M243.85,251.99h0.01M246.58,251.97h0.01M249.30,251.95h0.01M252.03,251.93h0.01M254.76,251.91h0.01M257.49,251.88h0.01M260.22,251.86h0.01M262.95,251.83h0.01M265.68,251.81h0.01M268.41,251.78h0.01M271.14,251.75h0.01M273.86,251.73h0.01M276.59,251.70h0.01M279.32,251.67h0.01M282.05,251.64h0.01M284.78,251.61h0.01M287.51,251.57h0.01M290.24,251.54h0.01M292.97,251.50h0.01M295.69,251.47h0.01M298.42,251.43h0.01M301.15,251.39h0.01M303.88,251.35h0.01M306.61,251.30h0.01M309.34,251.26h0.01M312.07,251.21h0.01M314.80,251.17h0.01M317.52,251.12h0.01M320.25,251.07h0.01" stroke="#f15289" stroke-width="3.6" stroke-linecap="round" fill="none"/>
<polyline points="405.50,218.94 406.38,242.55 407.26,240.33 408.14,251.36 409.02,252.77 409.90,255.43 410.78,269.62 411.66,252.98 412.54,248.10 413.42,234.49 414.30,238.13 415.18,254.96 416.06,256.97 416.94,263.61 417.82,268.11 418.70,255.57 419.58,255.92 420.46,282.64 421.34,313.31 422.22,211.36 423.10,184.26 423.98,199.01 424.86,220.84 425.74,247.53 426.62,233.18 427.50,208.33 428.38,194.49 429.26,213.28 430.14,229.47 431.02,224.44 431.90,246.92 432.78,239.73 433.66,220.52 434.54,223.02 435.42,229.92 436.30,234.58 437.18,266.60 438.06,233.64 438.94,243.30 439.82,229.18 440.70,199.21 441.58,212.24 442.46,237.24 443.34,256.85 444.22,234.52 445.10,217.56 445.98,203.02 446.86,211.92 447.74,238.55 448.62,248.84 449.50,270.10 450.38,262.57 451.26,240.14 452.14,230.53 453.02,244.92 453.90,253.18 454.78,248.65 455.66,271.79 456.54,237.70 457.42,237.44 458.30,265.47 459.18,249.79 460.06,254.37 460.94,240.47 461.82,272.48 462.70,260.67 463.58,230.36 464.46,237.85 465.34,272.88 466.22,273.51 467.10,258.51 467.98,250.28 468.86,222.71 469.74,253.14 470.62,243.07 471.50,251.46 472.38,222.97 473.26,238.08 474.14,252.72 475.02,263.48 475.90,218.66 476.78,221.86 477.66,222.58 478.54,219.05 479.42,217.80 480.30,233.82 481.18,250.98 482.06,252.76 482.94,228.80 483.82,264.80 484.70,266.51 485.58,273.51 486.46,257.99 487.34,245.15 488.22,266.83 489.10,261.31 489.98,226.05 490.86,209.84 491.74,217.94 492.62,246.83 493.50,263.33 494.38,276.36 495.26,261.88 496.14,243.16 497.02,253.06 497.90,244.77 498.78,243.20 499.66,234.86 500.54,229.80 501.42,213.11 502.30,212.97 503.18,221.73 504.06,269.65 504.94,262.07 505.82,266.69 506.70,237.49 507.58,240.38 508.46,215.53 509.34,219.55 510.22,251.10 511.10,261.97 511.98,255.09 512.86,239.22 513.74,219.51 514.62,208.52 515.50,208.48 516.38,216.67 517.26,223.69 518.14,208.05 519.02,216.37 519.90,227.43 520.78,258.37 521.66,264.42 522.54,256.42 523.42,225.57 524.30,224.58 525.18,242.87 526.06,245.39 526.94,235.51 527.82,251.73 528.70,262.12 529.58,262.60 530.46,291.14 531.34,267.54 532.22,262.21 533.10,266.56 533.98,265.48 534.86,236.72 535.74,234.52 536.62,249.68 537.50,257.60 538.38,250.39 539.26,249.82 540.14,270.43 541.02,258.07 541.90,241.35 542.78,250.39 543.66,209.84 544.54,209.39 545.42,229.35 546.30,232.58 547.18,253.33 548.06,250.62 548.94,235.63 549.82,231.77 550.70,228.82 551.58,274.15 552.46,257.10 553.34,280.99 554.22,302.51 555.10,271.46 555.98,242.38 556.86,229.84 557.74,238.46 558.62,224.80 559.50,248.29 560.38,248.82 561.26,237.90 562.14,246.28 563.02,217.00 563.90,215.71 564.78,213.42 565.66,210.98 566.54,229.22 567.42,244.52 568.30,245.95 569.18,254.47 570.06,248.45 570.94,241.58 571.82,221.79 572.70,245.67 573.58,224.79 574.46,221.36 575.34,195.06 576.22,268.02 577.10,280.27 577.98,293.98 578.86,263.43 579.74,246.75 580.62,227.37 581.50,214.91 582.38,239.10 583.26,253.06 584.14,263.28 585.02,265.18 585.90,247.92 586.78,267.45 587.66,241.12 588.54,240.00 589.42,228.88 590.30,246.36 591.18,258.40 592.06,250.97 592.94,263.80 593.82,270.67 594.70,260.66 595.58,239.40 596.46,221.01 597.34,193.36 598.22,224.37 599.10,262.85 599.98,266.93 600.86,273.30 601.74,279.20 602.62,259.12 603.50,277.46 604.38,256.31 605.26,257.03 606.14,262.20 607.02,258.73 607.90,260.50 608.78,277.13 609.66,251.52 610.54,261.58 611.42,210.98 612.30,236.34 613.18,236.35 614.06,240.72 614.94,267.41 615.82,263.80 616.70,254.41 617.58,251.86 618.46,232.91 619.34,260.10 620.22,274.94 621.10,269.26 621.98,248.69 622.86,215.58 623.74,240.14 624.62,230.69 625.50,208.61 626.38,185.97 627.26,198.34 628.14,230.46 629.02,232.88 629.90,235.99 630.78,236.71 631.66,253.25 632.54,220.20 633.42,239.37 634.30,249.71 635.18,261.26 636.06,261.58 636.94,249.79 637.82,232.93 638.70,227.01 639.58,223.03 640.46,232.14 641.34,242.42 642.22,233.75 643.10,237.78 643.98,255.00 644.86,263.47 645.74,286.59 646.62,212.01 647.50,185.97 648.38,207.66 649.26,213.17 650.14,252.55 651.02,264.02 651.90,273.51 652.78,257.12 653.66,272.48 654.54,245.23 655.42,228.72 656.30,233.11 657.18,218.09 658.06,225.86 658.94,245.41 659.82,249.49 660.70,270.21 661.58,252.79 662.46,228.85 663.34,253.05 664.22,258.73 665.10,248.47 665.98,234.79 666.86,247.62 667.74,274.76 668.62,257.36 669.50,246.16 670.38,244.29 671.26,256.74" fill="none" stroke="#f15289" stroke-width="1.45" stroke-dasharray="3.6,2.0" stroke-linejoin="round"/>
<path d="M405.50,218.94h0.01M406.38,242.55h0.01M407.26,240.33h0.01M408.14,251.36h0.01M409.02,252.77h0.01M409.90,255.43h0.01M410.78,269.62h0.01M411.66,252.98h0.01M412.54,248.10h0.01M413.42,234.49h0.01M414.30,238.13h0.01M415.18,254.96h0.01M416.06,256.97h0.01M416.94,263.61h0.01M417.82,268.11h0.01M418.70,255.57h0.01M419.58,255.92h0.01M420.46,282.64h0.01M421.34,313.31h0.01M422.22,211.36h0.01M423.10,184.26h0.01M423.98,199.01h0.01M424.86,220.84h0.01M425.74,247.53h0.01M426.62,233.18h0.01M427.50,208.33h0.01M428.38,194.49h0.01M429.26,213.28h0.01M430.14,229.47h0.01M431.02,224.44h0.01M431.90,246.92h0.01M432.78,239.73h0.01M433.66,220.52h0.01M434.54,223.02h0.01M435.42,229.92h0.01M436.30,234.58h0.01M437.18,266.60h0.01M438.06,233.64h0.01M438.94,243.30h0.01M439.82,229.18h0.01M440.70,199.21h0.01M441.58,212.24h0.01M442.46,237.24h0.01M443.34,256.85h0.01M444.22,234.52h0.01M445.10,217.56h0.01M445.98,203.02h0.01M446.86,211.92h0.01M447.74,238.55h0.01M448.62,248.84h0.01M449.50,270.10h0.01M450.38,262.57h0.01M451.26,240.14h0.01M452.14,230.53h0.01M453.02,244.92h0.01M453.90,253.18h0.01M454.78,248.65h0.01M455.66,271.79h0.01M456.54,237.70h0.01M457.42,237.44h0.01M458.30,265.47h0.01M459.18,249.79h0.01M460.06,254.37h0.01M460.94,240.47h0.01M461.82,272.48h0.01M462.70,260.67h0.01M463.58,230.36h0.01M464.46,237.85h0.01M465.34,272.88h0.01M466.22,273.51h0.01M467.10,258.51h0.01M467.98,250.28h0.01M468.86,222.71h0.01M469.74,253.14h0.01M470.62,243.07h0.01M471.50,251.46h0.01M472.38,222.97h0.01M473.26,238.08h0.01M474.14,252.72h0.01M475.02,263.48h0.01M475.90,218.66h0.01M476.78,221.86h0.01M477.66,222.58h0.01M478.54,219.05h0.01M479.42,217.80h0.01M480.30,233.82h0.01M481.18,250.98h0.01M482.06,252.76h0.01M482.94,228.80h0.01M483.82,264.80h0.01M484.70,266.51h0.01M485.58,273.51h0.01M486.46,257.99h0.01M487.34,245.15h0.01M488.22,266.83h0.01M489.10,261.31h0.01M489.98,226.05h0.01M490.86,209.84h0.01M491.74,217.94h0.01M492.62,246.83h0.01M493.50,263.33h0.01M494.38,276.36h0.01M495.26,261.88h0.01M496.14,243.16h0.01M497.02,253.06h0.01M497.90,244.77h0.01M498.78,243.20h0.01M499.66,234.86h0.01M500.54,229.80h0.01M501.42,213.11h0.01M502.30,212.97h0.01M503.18,221.73h0.01M504.06,269.65h0.01M504.94,262.07h0.01M505.82,266.69h0.01M506.70,237.49h0.01M507.58,240.38h0.01M508.46,215.53h0.01M509.34,219.55h0.01M510.22,251.10h0.01M511.10,261.97h0.01M511.98,255.09h0.01M512.86,239.22h0.01M513.74,219.51h0.01M514.62,208.52h0.01M515.50,208.48h0.01M516.38,216.67h0.01M517.26,223.69h0.01M518.14,208.05h0.01M519.02,216.37h0.01M519.90,227.43h0.01M520.78,258.37h0.01M521.66,264.42h0.01M522.54,256.42h0.01M523.42,225.57h0.01M524.30,224.58h0.01M525.18,242.87h0.01M526.06,245.39h0.01M526.94,235.51h0.01M527.82,251.73h0.01M528.70,262.12h0.01M529.58,262.60h0.01M530.46,291.14h0.01M531.34,267.54h0.01M532.22,262.21h0.01M533.10,266.56h0.01M533.98,265.48h0.01M534.86,236.72h0.01M535.74,234.52h0.01M536.62,249.68h0.01M537.50,257.60h0.01M538.38,250.39h0.01M539.26,249.82h0.01M540.14,270.43h0.01M541.02,258.07h0.01M541.90,241.35h0.01M542.78,250.39h0.01M543.66,209.84h0.01M544.54,209.39h0.01M545.42,229.35h0.01M546.30,232.58h0.01M547.18,253.33h0.01M548.06,250.62h0.01M548.94,235.63h0.01M549.82,231.77h0.01M550.70,228.82h0.01M551.58,274.15h0.01M552.46,257.10h0.01M553.34,280.99h0.01M554.22,302.51h0.01M555.10,271.46h0.01M555.98,242.38h0.01M556.86,229.84h0.01M557.74,238.46h0.01M558.62,224.80h0.01M559.50,248.29h0.01M560.38,248.82h0.01M561.26,237.90h0.01M562.14,246.28h0.01M563.02,217.00h0.01M563.90,215.71h0.01M564.78,213.42h0.01M565.66,210.98h0.01M566.54,229.22h0.01M567.42,244.52h0.01M568.30,245.95h0.01M569.18,254.47h0.01M570.06,248.45h0.01M570.94,241.58h0.01M571.82,221.79h0.01M572.70,245.67h0.01M573.58,224.79h0.01M574.46,221.36h0.01M575.34,195.06h0.01M576.22,268.02h0.01M577.10,280.27h0.01M577.98,293.98h0.01M578.86,263.43h0.01M579.74,246.75h0.01M580.62,227.37h0.01M581.50,214.91h0.01M582.38,239.10h0.01M583.26,253.06h0.01M584.14,263.28h0.01M585.02,265.18h0.01M585.90,247.92h0.01M586.78,267.45h0.01M587.66,241.12h0.01M588.54,240.00h0.01M589.42,228.88h0.01M590.30,246.36h0.01M591.18,258.40h0.01M592.06,250.97h0.01M592.94,263.80h0.01M593.82,270.67h0.01M594.70,260.66h0.01M595.58,239.40h0.01M596.46,221.01h0.01M597.34,193.36h0.01M598.22,224.37h0.01M599.10,262.85h0.01M599.98,266.93h0.01M600.86,273.30h0.01M601.74,279.20h0.01M602.62,259.12h0.01M603.50,277.46h0.01M604.38,256.31h0.01M605.26,257.03h0.01M606.14,262.20h0.01M607.02,258.73h0.01M607.90,260.50h0.01M608.78,277.13h0.01M609.66,251.52h0.01M610.54,261.58h0.01M611.42,210.98h0.01M612.30,236.34h0.01M613.18,236.35h0.01M614.06,240.72h0.01M614.94,267.41h0.01M615.82,263.80h0.01M616.70,254.41h0.01M617.58,251.86h0.01M618.46,232.91h0.01M619.34,260.10h0.01M620.22,274.94h0.01M621.10,269.26h0.01M621.98,248.69h0.01M622.86,215.58h0.01M623.74,240.14h0.01M624.62,230.69h0.01M625.50,208.61h0.01M626.38,185.97h0.01M627.26,198.34h0.01M628.14,230.46h0.01M629.02,232.88h0.01M629.90,235.99h0.01M630.78,236.71h0.01M631.66,253.25h0.01M632.54,220.20h0.01M633.42,239.37h0.01M634.30,249.71h0.01M635.18,261.26h0.01M636.06,261.58h0.01M636.94,249.79h0.01M637.82,232.93h0.01M638.70,227.01h0.01M639.58,223.03h0.01M640.46,232.14h0.01M641.34,242.42h0.01M642.22,233.75h0.01M643.10,237.78h0.01M643.98,255.00h0.01M644.86,263.47h0.01M645.74,286.59h0.01M646.62,212.01h0.01M647.50,185.97h0.01M648.38,207.66h0.01M649.26,213.17h0.01M650.14,252.55h0.01M651.02,264.02h0.01M651.90,273.51h0.01M652.78,257.12h0.01M653.66,272.48h0.01M654.54,245.23h0.01M655.42,228.72h0.01M656.30,233.11h0.01M657.18,218.09h0.01M658.06,225.86h0.01M658.94,245.41h0.01M659.82,249.49h0.01M660.70,270.21h0.01M661.58,252.79h0.01M662.46,228.85h0.01M663.34,253.05h0.01M664.22,258.73h0.01M665.10,248.47h0.01M665.98,234.79h0.01M666.86,247.62h0.01M667.74,274.76h0.01M668.62,257.36h0.01M669.50,246.16h0.01M670.38,244.29h0.01M671.26,256.74h0.01" stroke="#f15289" stroke-width="1.7" stroke-linecap="round" fill="none"/>
<polyline points="405.50,240.55 406.38,241.16 407.26,241.80 408.14,242.48 409.02,243.20 409.90,243.93 410.78,244.76 411.66,245.83 412.54,247.00 413.42,248.10 414.30,248.94 415.18,249.34 416.06,249.25 416.94,248.89 417.82,248.33 418.70,247.65 419.58,246.93 420.46,246.23 421.34,245.49 422.22,244.65 423.10,243.72 423.98,242.77 424.86,241.83 425.74,240.94 426.62,240.14 427.50,239.36 428.38,238.53 429.26,237.68 430.14,236.88 431.02,236.17 431.90,235.60 432.78,235.22 433.66,235.08 434.54,235.19 435.42,235.46 436.30,235.87 437.18,236.35 438.06,236.87 438.94,237.38 439.82,237.82 440.70,238.15 441.58,238.41 442.46,238.64 443.34,238.86 444.22,239.07 445.10,239.26 445.98,239.44 446.86,239.62 447.74,239.80 448.62,239.97 449.50,240.14 450.38,240.33 451.26,240.53 452.14,240.73 453.02,240.94 453.90,241.15 454.78,241.35 455.66,241.55 456.54,241.73 457.42,241.89 458.30,242.02 459.18,242.13 460.06,242.21 460.94,242.24 461.82,242.24 462.70,242.19 463.58,242.10 464.46,241.99 465.34,241.85 466.22,241.71 467.10,241.56 467.98,241.42 468.86,241.30 469.74,241.20 470.62,241.13 471.50,241.11 472.38,241.12 473.26,241.16 474.14,241.23 475.02,241.31 475.90,241.41 476.78,241.52 477.66,241.64 478.54,241.77 479.42,241.91 480.30,242.04 481.18,242.17 482.06,242.30 482.94,242.46 483.82,242.65 484.70,242.87 485.58,243.09 486.46,243.32 487.34,243.54 488.22,243.75 489.10,243.93 489.98,244.08 490.86,244.18 491.74,244.23 492.62,244.23 493.50,244.21 494.38,244.17 495.26,244.11 496.14,244.03 497.02,243.95 497.90,243.85 498.78,243.74 499.66,243.62 500.54,243.49 501.42,243.35 502.30,243.21 503.18,243.02 504.06,242.76 504.94,242.43 505.82,242.05 506.70,241.65 507.58,241.25 508.46,240.86 509.34,240.50 510.22,240.20 511.10,239.93 511.98,239.64 512.86,239.35 513.74,239.07 514.62,238.81 515.50,238.57 516.38,238.38 517.26,238.24 518.14,238.16 519.02,238.16 519.90,238.19 520.78,238.24 521.66,238.33 522.54,238.43 523.42,238.55 524.30,238.69 525.18,238.84 526.06,239.00 526.94,239.18 527.82,239.43 528.70,239.78 529.58,240.21 530.46,240.68 531.34,241.20 532.22,241.73 533.10,242.25 533.98,242.75 534.86,243.21 535.74,243.64 536.62,244.07 537.50,244.49 538.38,244.92 539.26,245.36 540.14,245.83 541.02,246.33 541.90,246.84 542.78,247.35 543.66,247.84 544.54,248.31 545.42,248.72 546.30,249.08 547.18,249.37 548.06,249.59 548.94,249.81 549.82,250.01 550.70,250.19 551.58,250.34 552.46,250.46 553.34,250.53 554.22,250.54 555.10,250.45 555.98,250.26 556.86,249.97 557.74,249.61 558.62,249.21 559.50,248.78 560.38,248.35 561.26,247.94 562.14,247.56 563.02,247.25 563.90,246.95 564.78,246.65 565.66,246.36 566.54,246.06 567.42,245.77 568.30,245.49 569.18,245.21 570.06,244.95 570.94,244.70 571.82,244.46 572.70,244.24 573.58,244.05 574.46,243.86 575.34,243.66 576.22,243.47 577.10,243.29 577.98,243.13 578.86,243.02 579.74,242.94 580.62,242.94 581.50,243.04 582.38,243.26 583.26,243.57 584.14,243.92 585.02,244.30 585.90,244.68 586.78,245.03 587.66,245.34 588.54,245.66 589.42,245.99 590.30,246.32 591.18,246.66 592.06,247.00 592.94,247.34 593.82,247.68 594.70,248.02 595.58,248.35 596.46,248.71 597.34,249.11 598.22,249.54 599.10,249.98 599.98,250.41 600.86,250.80 601.74,251.15 602.62,251.42 603.50,251.61 604.38,251.68 605.26,251.67 606.14,251.63 607.02,251.56 607.90,251.46 608.78,251.35 609.66,251.21 610.54,251.06 611.42,250.90 612.30,250.73 613.18,250.55 614.06,250.31 614.94,249.99 615.82,249.58 616.70,249.13 617.58,248.63 618.46,248.11 619.34,247.60 620.22,247.10 621.10,246.64 621.98,246.23 622.86,245.83 623.74,245.40 624.62,244.95 625.50,244.51 626.38,244.09 627.26,243.71 628.14,243.39 629.02,243.14 629.90,242.98 630.78,242.93 631.66,243.00 632.54,243.18 633.42,243.45 634.30,243.78 635.18,244.15 636.06,244.55 636.94,244.94 637.82,245.34 638.70,245.88 639.58,246.53 640.46,247.25 641.34,247.99 642.22,248.71 643.10,249.37 643.98,249.92 644.86,250.32 645.74,250.53 646.62,250.54 647.50,250.47 648.38,250.37 649.26,250.22 650.14,250.04 651.02,249.85 651.90,249.64 652.78,249.42 653.66,249.13 654.54,248.74 655.42,248.29 656.30,247.79 657.18,247.26 658.06,246.73 658.94,246.22 659.82,245.75 660.70,245.35 661.58,245.03 662.46,244.73 663.34,244.44 664.22,244.20 665.10,244.04 665.98,244.02 666.86,244.17 667.74,244.51 668.62,245.02 669.50,245.67 670.38,246.46 671.26,247.36" fill="none" stroke="#f15289" stroke-width="3.0" stroke-linejoin="round"/>
<path d="M405.50,240.55h0.01M408.14,242.48h0.01M410.78,244.76h0.01M413.42,248.10h0.01M416.06,249.25h0.01M418.70,247.65h0.01M421.34,245.49h0.01M423.98,242.77h0.01M426.62,240.14h0.01M429.26,237.68h0.01M431.90,235.60h0.01M434.54,235.19h0.01M437.18,236.35h0.01M439.82,237.82h0.01M442.46,238.64h0.01M445.10,239.26h0.01M447.74,239.80h0.01M450.38,240.33h0.01M453.02,240.94h0.01M455.66,241.55h0.01M458.30,242.02h0.01M460.94,242.24h0.01M463.58,242.10h0.01M466.22,241.71h0.01M468.86,241.30h0.01M471.50,241.11h0.01M474.14,241.23h0.01M476.78,241.52h0.01M479.42,241.91h0.01M482.06,242.30h0.01M484.70,242.87h0.01M487.34,243.54h0.01M489.98,244.08h0.01M492.62,244.23h0.01M495.26,244.11h0.01M497.90,243.85h0.01M500.54,243.49h0.01M503.18,243.02h0.01M505.82,242.05h0.01M508.46,240.86h0.01M511.10,239.93h0.01M513.74,239.07h0.01M516.38,238.38h0.01M519.02,238.16h0.01M521.66,238.33h0.01M524.30,238.69h0.01M526.94,239.18h0.01M529.58,240.21h0.01M532.22,241.73h0.01M534.86,243.21h0.01M537.50,244.49h0.01M540.14,245.83h0.01M542.78,247.35h0.01M545.42,248.72h0.01M548.06,249.59h0.01M550.70,250.19h0.01M553.34,250.53h0.01M555.98,250.26h0.01M558.62,249.21h0.01M561.26,247.94h0.01M563.90,246.95h0.01M566.54,246.06h0.01M569.18,245.21h0.01M571.82,244.46h0.01M574.46,243.86h0.01M577.10,243.29h0.01M579.74,242.94h0.01M582.38,243.26h0.01M585.02,244.30h0.01M587.66,245.34h0.01M590.30,246.32h0.01M592.94,247.34h0.01M595.58,248.35h0.01M598.22,249.54h0.01M600.86,250.80h0.01M603.50,251.61h0.01M606.14,251.63h0.01M608.78,251.35h0.01M611.42,250.90h0.01M614.06,250.31h0.01M616.70,249.13h0.01M619.34,247.60h0.01M621.98,246.23h0.01M624.62,244.95h0.01M627.26,243.71h0.01M629.90,242.98h0.01M632.54,243.18h0.01M635.18,244.15h0.01M637.82,245.34h0.01M640.46,247.25h0.01M643.10,249.37h0.01M645.74,250.53h0.01M648.38,250.37h0.01M651.02,249.85h0.01M653.66,249.13h0.01M656.30,247.79h0.01M658.94,246.22h0.01M661.58,245.03h0.01M664.22,244.20h0.01M666.86,244.17h0.01M669.50,245.67h0.01" stroke="#f15289" stroke-width="3.6" stroke-linecap="round" fill="none"/>
<polyline points="405.50,201.31 406.38,185.83 407.26,181.70 408.14,180.37 409.02,207.85 409.90,202.51 410.78,208.79 411.66,209.56 412.54,232.31 413.42,220.26 414.30,228.93 415.18,245.83 416.06,211.57 416.94,213.24 417.82,207.28 418.70,203.91 419.58,247.13 420.46,244.66 421.34,271.24 422.22,255.74 423.10,241.45 423.98,228.72 424.86,204.90 425.74,190.01 426.62,173.46 427.50,201.47 428.38,213.61 429.26,202.39 430.14,186.53 431.02,210.63 431.90,214.53 432.78,212.77 433.66,219.17 434.54,188.37 435.42,179.37 436.30,184.82 437.18,192.86 438.06,226.19 438.94,228.70 439.82,217.33 440.70,215.13 441.58,238.76 442.46,266.69 443.34,252.40 444.22,243.52 445.10,234.75 445.98,229.14 446.86,219.81 447.74,207.74 448.62,245.07 449.50,259.87 450.38,243.14 451.26,244.15 452.14,226.48 453.02,207.67 453.90,194.49 454.78,213.89 455.66,205.29 456.54,222.95 457.42,216.87 458.30,198.96 459.18,189.79 460.06,180.56 460.94,193.01 461.82,218.81 462.70,230.50 463.58,247.02 464.46,224.29 465.34,225.77 466.22,222.48 467.10,178.98 467.98,204.44 468.86,216.93 469.74,179.91 470.62,198.27 471.50,189.45 472.38,211.45 473.26,212.85 474.14,230.34 475.02,220.57 475.90,200.19 476.78,182.90 477.66,181.43 478.54,172.37 479.42,200.68 480.30,186.91 481.18,184.09 482.06,196.02 482.94,221.07 483.82,233.27 484.70,225.28 485.58,227.89 486.46,223.66 487.34,231.84 488.22,214.05 489.10,209.35 489.98,204.86 490.86,192.68 491.74,194.92 492.62,215.61 493.50,167.77 494.38,224.85 495.26,212.48 496.14,204.99 497.02,206.59 497.90,206.01 498.78,221.81 499.66,216.01 500.54,232.66 501.42,199.85 502.30,203.18 503.18,193.01 504.06,179.37 504.94,194.09 505.82,213.11 506.70,206.45 507.58,217.80 508.46,218.66 509.34,209.60 510.22,212.49 511.10,175.14 511.98,168.91 512.86,178.68 513.74,166.51 514.62,166.03 515.50,177.70 516.38,175.16 517.26,169.60 518.14,188.35 519.02,209.84 519.90,185.97 520.78,203.02 521.66,180.28 522.54,205.86 523.42,177.44 524.30,197.34 525.18,183.48 526.06,208.23 526.94,194.88 527.82,190.23 528.70,193.07 529.58,197.34 530.46,203.02 531.34,201.88 532.22,187.43 533.10,149.43 533.98,111.43 534.86,73.43 535.74,49.22 536.62,30.92 537.50,12.61 538.38,-5.69 539.26,26.18 540.14,91.50 541.02,138.59 541.90,145.14 542.78,159.93 543.66,165.92 544.54,170.17 545.42,172.70 546.30,175.23 547.18,186.72 548.06,200.46 548.94,167.88 549.82,147.75 550.70,179.63 551.58,224.44 552.46,239.38 553.34,276.36 554.22,234.11 555.10,213.70 555.98,200.62 556.86,181.60 557.74,200.85 558.62,225.19 559.50,206.09 560.38,182.17 561.26,185.82 562.14,214.23 563.02,193.13 563.90,197.70 564.78,198.64 565.66,188.44 566.54,184.83 567.42,207.95 568.30,187.93 569.18,186.09 570.06,206.84 570.94,208.89 571.82,200.63 572.70,193.36 573.58,199.99 574.46,207.97 575.34,217.25 576.22,225.67 577.10,217.67 577.98,188.08 578.86,180.87 579.74,194.25 580.62,207.68 581.50,216.57 582.38,191.24 583.26,174.78 584.14,178.11 585.02,143.90 585.90,184.35 586.78,200.32 587.66,202.70 588.54,227.67 589.42,230.01 590.30,201.75 591.18,200.73 592.06,225.47 592.94,244.29 593.82,226.37 594.70,191.14 595.58,194.55 596.46,197.15 597.34,192.08 598.22,190.55 599.10,169.39 599.98,161.91 600.86,151.85 601.74,178.06 602.62,212.15 603.50,222.03 604.38,209.65 605.26,209.11 606.14,208.96 607.02,215.00 607.90,228.61 608.78,247.19 609.66,238.02 610.54,204.52 611.42,190.83 612.30,189.11 613.18,170.05 614.06,191.74 614.94,212.71 615.82,235.53 616.70,217.29 617.58,228.26 618.46,187.03 619.34,180.69 620.22,168.63 621.10,183.94 621.98,185.91 622.86,206.98 623.74,209.68 624.62,202.85 625.50,186.69 626.38,178.13 627.26,175.73 628.14,183.66 629.02,182.81 629.90,204.68 630.78,187.80 631.66,178.70 632.54,170.05 633.42,176.32 634.30,194.27 635.18,188.58 636.06,185.62 636.94,181.25 637.82,164.36 638.70,182.00 639.58,167.18 640.46,183.04 641.34,185.23 642.22,196.56 643.10,178.80 643.98,192.43 644.86,199.03 645.74,196.77 646.62,217.97 647.50,204.07 648.38,209.27 649.26,226.90 650.14,217.04 651.02,225.34 651.90,212.34 652.78,196.63 653.66,177.20 654.54,164.36 655.42,188.23 656.30,200.20 657.18,237.14 658.06,233.12 658.94,243.39 659.82,247.19 660.70,206.45 661.58,190.62 662.46,181.70 663.34,186.10 664.22,191.97 665.10,215.88 665.98,219.97 666.86,220.54 667.74,231.42 668.62,191.53 669.50,187.67 670.38,228.63 671.26,226.90" fill="none" stroke="#2f85c0" stroke-width="1.45" stroke-dasharray="3.6,2.0" stroke-linejoin="round"/>
<path d="M405.50,201.31h0.01M406.38,185.83h0.01M407.26,181.70h0.01M408.14,180.37h0.01M409.02,207.85h0.01M409.90,202.51h0.01M410.78,208.79h0.01M411.66,209.56h0.01M412.54,232.31h0.01M413.42,220.26h0.01M414.30,228.93h0.01M415.18,245.83h0.01M416.06,211.57h0.01M416.94,213.24h0.01M417.82,207.28h0.01M418.70,203.91h0.01M419.58,247.13h0.01M420.46,244.66h0.01M421.34,271.24h0.01M422.22,255.74h0.01M423.10,241.45h0.01M423.98,228.72h0.01M424.86,204.90h0.01M425.74,190.01h0.01M426.62,173.46h0.01M427.50,201.47h0.01M428.38,213.61h0.01M429.26,202.39h0.01M430.14,186.53h0.01M431.02,210.63h0.01M431.90,214.53h0.01M432.78,212.77h0.01M433.66,219.17h0.01M434.54,188.37h0.01M435.42,179.37h0.01M436.30,184.82h0.01M437.18,192.86h0.01M438.06,226.19h0.01M438.94,228.70h0.01M439.82,217.33h0.01M440.70,215.13h0.01M441.58,238.76h0.01M442.46,266.69h0.01M443.34,252.40h0.01M444.22,243.52h0.01M445.10,234.75h0.01M445.98,229.14h0.01M446.86,219.81h0.01M447.74,207.74h0.01M448.62,245.07h0.01M449.50,259.87h0.01M450.38,243.14h0.01M451.26,244.15h0.01M452.14,226.48h0.01M453.02,207.67h0.01M453.90,194.49h0.01M454.78,213.89h0.01M455.66,205.29h0.01M456.54,222.95h0.01M457.42,216.87h0.01M458.30,198.96h0.01M459.18,189.79h0.01M460.06,180.56h0.01M460.94,193.01h0.01M461.82,218.81h0.01M462.70,230.50h0.01M463.58,247.02h0.01M464.46,224.29h0.01M465.34,225.77h0.01M466.22,222.48h0.01M467.10,178.98h0.01M467.98,204.44h0.01M468.86,216.93h0.01M469.74,179.91h0.01M470.62,198.27h0.01M471.50,189.45h0.01M472.38,211.45h0.01M473.26,212.85h0.01M474.14,230.34h0.01M475.02,220.57h0.01M475.90,200.19h0.01M476.78,182.90h0.01M477.66,181.43h0.01M478.54,172.37h0.01M479.42,200.68h0.01M480.30,186.91h0.01M481.18,184.09h0.01M482.06,196.02h0.01M482.94,221.07h0.01M483.82,233.27h0.01M484.70,225.28h0.01M485.58,227.89h0.01M486.46,223.66h0.01M487.34,231.84h0.01M488.22,214.05h0.01M489.10,209.35h0.01M489.98,204.86h0.01M490.86,192.68h0.01M491.74,194.92h0.01M492.62,215.61h0.01M493.50,167.77h0.01M494.38,224.85h0.01M495.26,212.48h0.01M496.14,204.99h0.01M497.02,206.59h0.01M497.90,206.01h0.01M498.78,221.81h0.01M499.66,216.01h0.01M500.54,232.66h0.01M501.42,199.85h0.01M502.30,203.18h0.01M503.18,193.01h0.01M504.06,179.37h0.01M504.94,194.09h0.01M505.82,213.11h0.01M506.70,206.45h0.01M507.58,217.80h0.01M508.46,218.66h0.01M509.34,209.60h0.01M510.22,212.49h0.01M511.10,175.14h0.01M511.98,168.91h0.01M512.86,178.68h0.01M513.74,166.51h0.01M514.62,166.03h0.01M515.50,177.70h0.01M516.38,175.16h0.01M517.26,169.60h0.01M518.14,188.35h0.01M519.02,209.84h0.01M519.90,185.97h0.01M520.78,203.02h0.01M521.66,180.28h0.01M522.54,205.86h0.01M523.42,177.44h0.01M524.30,197.34h0.01M525.18,183.48h0.01M526.06,208.23h0.01M526.94,194.88h0.01M527.82,190.23h0.01M528.70,193.07h0.01M529.58,197.34h0.01M530.46,203.02h0.01M531.34,201.88h0.01M532.22,187.43h0.01M533.10,149.43h0.01M533.98,111.43h0.01M534.86,73.43h0.01M535.74,49.22h0.01M536.62,30.92h0.01M537.50,12.61h0.01M538.38,-5.69h0.01M539.26,26.18h0.01M540.14,91.50h0.01M541.02,138.59h0.01M541.90,145.14h0.01M542.78,159.93h0.01M543.66,165.92h0.01M544.54,170.17h0.01M545.42,172.70h0.01M546.30,175.23h0.01M547.18,186.72h0.01M548.06,200.46h0.01M548.94,167.88h0.01M549.82,147.75h0.01M550.70,179.63h0.01M551.58,224.44h0.01M552.46,239.38h0.01M553.34,276.36h0.01M554.22,234.11h0.01M555.10,213.70h0.01M555.98,200.62h0.01M556.86,181.60h0.01M557.74,200.85h0.01M558.62,225.19h0.01M559.50,206.09h0.01M560.38,182.17h0.01M561.26,185.82h0.01M562.14,214.23h0.01M563.02,193.13h0.01M563.90,197.70h0.01M564.78,198.64h0.01M565.66,188.44h0.01M566.54,184.83h0.01M567.42,207.95h0.01M568.30,187.93h0.01M569.18,186.09h0.01M570.06,206.84h0.01M570.94,208.89h0.01M571.82,200.63h0.01M572.70,193.36h0.01M573.58,199.99h0.01M574.46,207.97h0.01M575.34,217.25h0.01M576.22,225.67h0.01M577.10,217.67h0.01M577.98,188.08h0.01M578.86,180.87h0.01M579.74,194.25h0.01M580.62,207.68h0.01M581.50,216.57h0.01M582.38,191.24h0.01M583.26,174.78h0.01M584.14,178.11h0.01M585.02,143.90h0.01M585.90,184.35h0.01M586.78,200.32h0.01M587.66,202.70h0.01M588.54,227.67h0.01M589.42,230.01h0.01M590.30,201.75h0.01M591.18,200.73h0.01M592.06,225.47h0.01M592.94,244.29h0.01M593.82,226.37h0.01M594.70,191.14h0.01M595.58,194.55h0.01M596.46,197.15h0.01M597.34,192.08h0.01M598.22,190.55h0.01M599.10,169.39h0.01M599.98,161.91h0.01M600.86,151.85h0.01M601.74,178.06h0.01M602.62,212.15h0.01M603.50,222.03h0.01M604.38,209.65h0.01M605.26,209.11h0.01M606.14,208.96h0.01M607.02,215.00h0.01M607.90,228.61h0.01M608.78,247.19h0.01M609.66,238.02h0.01M610.54,204.52h0.01M611.42,190.83h0.01M612.30,189.11h0.01M613.18,170.05h0.01M614.06,191.74h0.01M614.94,212.71h0.01M615.82,235.53h0.01M616.70,217.29h0.01M617.58,228.26h0.01M618.46,187.03h0.01M619.34,180.69h0.01M620.22,168.63h0.01M621.10,183.94h0.01M621.98,185.91h0.01M622.86,206.98h0.01M623.74,209.68h0.01M624.62,202.85h0.01M625.50,186.69h0.01M626.38,178.13h0.01M627.26,175.73h0.01M628.14,183.66h0.01M629.02,182.81h0.01M629.90,204.68h0.01M630.78,187.80h0.01M631.66,178.70h0.01M632.54,170.05h0.01M633.42,176.32h0.01M634.30,194.27h0.01M635.18,188.58h0.01M636.06,185.62h0.01M636.94,181.25h0.01M637.82,164.36h0.01M638.70,182.00h0.01M639.58,167.18h0.01M640.46,183.04h0.01M641.34,185.23h0.01M642.22,196.56h0.01M643.10,178.80h0.01M643.98,192.43h0.01M644.86,199.03h0.01M645.74,196.77h0.01M646.62,217.97h0.01M647.50,204.07h0.01M648.38,209.27h0.01M649.26,226.90h0.01M650.14,217.04h0.01M651.02,225.34h0.01M651.90,212.34h0.01M652.78,196.63h0.01M653.66,177.20h0.01M654.54,164.36h0.01M655.42,188.23h0.01M656.30,200.20h0.01M657.18,237.14h0.01M658.06,233.12h0.01M658.94,243.39h0.01M659.82,247.19h0.01M660.70,206.45h0.01M661.58,190.62h0.01M662.46,181.70h0.01M663.34,186.10h0.01M664.22,191.97h0.01M665.10,215.88h0.01M665.98,219.97h0.01M666.86,220.54h0.01M667.74,231.42h0.01M668.62,191.53h0.01M669.50,187.67h0.01M670.38,228.63h0.01M671.26,226.90h0.01" stroke="#2f85c0" stroke-width="1.7" stroke-linecap="round" fill="none"/>
<polyline points="405.50,195.65 406.38,191.52 407.26,189.21 408.14,189.02 409.02,191.13 409.90,194.92 410.78,199.61 411.66,204.46 412.54,208.70 413.42,213.06 414.30,217.95 415.18,222.15 416.06,224.47 416.94,224.52 417.82,224.06 418.70,223.37 419.58,222.56 420.46,221.78 421.34,220.94 422.22,219.89 423.10,218.69 423.98,217.39 424.86,216.05 425.74,214.72 426.62,213.45 427.50,212.29 428.38,211.30 429.26,210.52 430.14,210.02 431.02,209.84 431.90,209.87 432.78,209.96 433.66,210.11 434.54,210.30 435.42,210.55 436.30,210.84 437.18,211.17 438.06,211.55 438.94,212.42 439.82,214.01 440.70,215.97 441.58,217.92 442.46,219.52 443.34,220.52 444.22,221.41 445.10,222.27 445.98,223.08 446.86,223.81 447.74,224.46 448.62,225.00 449.50,225.41 450.38,225.67 451.26,225.76 452.14,225.64 453.02,225.34 453.90,224.88 454.78,224.34 455.66,223.69 456.54,222.60 457.42,221.13 458.30,219.43 459.18,217.64 460.06,215.90 460.94,214.35 461.82,213.07 462.70,211.84 463.58,210.62 464.46,209.44 465.34,208.30 466.22,207.21 467.10,206.19 467.98,205.24 468.86,204.37 469.74,203.59 470.62,202.83 471.50,202.05 472.38,201.31 473.26,200.64 474.14,200.10 475.02,199.74 475.90,199.61 476.78,199.65 477.66,199.78 478.54,199.98 479.42,200.25 480.30,200.56 481.18,200.92 482.06,201.31 482.94,201.97 483.82,203.02 484.70,204.35 485.58,205.83 486.46,207.32 487.34,208.70 488.22,209.84 489.10,210.79 489.98,211.70 490.86,212.56 491.74,213.38 492.62,214.15 493.50,214.86 494.38,215.53 495.26,216.22 496.14,216.93 497.02,217.51 497.90,217.79 498.78,217.72 499.66,217.43 500.54,216.95 501.42,216.33 502.30,215.60 503.18,214.81 504.06,213.99 504.94,213.08 505.82,211.91 506.70,210.54 507.58,209.01 508.46,207.37 509.34,205.66 510.22,203.93 511.10,202.17 511.98,200.27 512.86,198.26 513.74,196.16 514.62,194.00 515.50,191.80 516.38,189.60 517.26,187.33 518.14,184.93 519.02,182.46 519.90,179.97 520.78,177.55 521.66,175.23 522.54,173.09 523.42,171.04 524.30,168.92 525.18,166.84 526.06,164.89 526.94,163.16 527.82,161.75 528.70,160.74 529.58,160.03 530.46,159.37 531.34,158.77 532.22,158.27 533.10,157.88 533.98,157.63 534.86,157.54 535.74,157.66 536.62,158.00 537.50,158.51 538.38,159.13 539.26,159.82 540.14,160.53 541.02,161.44 541.90,162.57 542.78,163.84 543.66,165.19 544.54,166.73 545.42,168.42 546.30,170.21 547.18,172.08 548.06,173.96 548.94,175.82 549.82,177.61 550.70,179.40 551.58,181.21 552.46,183.04 553.34,184.85 554.22,186.64 555.10,188.37 555.98,190.03 556.86,191.63 557.74,193.24 558.62,194.84 559.50,196.39 560.38,197.87 561.26,199.24 562.14,200.46 563.02,201.51 563.90,202.51 564.78,203.48 565.66,204.41 566.54,205.24 567.42,205.96 568.30,206.53 569.18,206.92 570.06,207.15 570.94,207.35 571.82,207.53 572.70,207.69 573.58,207.81 574.46,207.90 575.34,207.95 576.22,207.95 577.10,207.76 577.98,207.39 578.86,206.88 579.74,206.31 580.62,205.73 581.50,205.21 582.38,204.79 583.26,204.48 584.14,204.16 585.02,203.84 585.90,203.54 586.78,203.25 587.66,203.00 588.54,202.78 589.42,202.61 590.30,202.50 591.18,202.45 592.06,202.48 592.94,202.55 593.82,202.67 594.70,202.83 595.58,203.02 596.46,203.23 597.34,203.45 598.22,203.69 599.10,204.02 599.98,204.43 600.86,204.91 601.74,205.43 602.62,205.96 603.50,206.48 604.38,206.95 605.26,207.43 606.14,207.96 607.02,208.52 607.90,209.10 608.78,209.65 609.66,210.16 610.54,210.61 611.42,210.95 612.30,211.18 613.18,211.26 614.06,211.24 614.94,211.17 615.82,211.06 616.70,210.91 617.58,210.73 618.46,210.53 619.34,210.30 620.22,210.03 621.10,209.55 621.98,208.89 622.86,208.09 623.74,207.23 624.62,206.34 625.50,205.49 626.38,204.73 627.26,203.97 628.14,203.14 629.02,202.26 629.90,201.38 630.78,200.52 631.66,199.75 632.54,199.08 633.42,198.56 634.30,198.23 635.18,198.13 636.06,198.13 636.94,198.13 637.82,198.13 638.70,198.13 639.58,198.13 640.46,198.57 641.34,199.58 642.22,200.92 643.10,202.37 643.98,203.71 644.86,205.04 645.74,206.47 646.62,207.98 647.50,209.53 648.38,211.07 649.26,212.57 650.14,213.99 651.02,215.36 651.90,216.84 652.78,218.37 653.66,219.84 654.54,221.18 655.42,222.30 656.30,223.12 657.18,223.54 658.06,223.81 658.94,224.03 659.82,224.20 660.70,224.31 661.58,224.31 662.46,223.44 663.34,221.72 664.22,219.63 665.10,217.68 665.98,216.32 666.86,215.20 667.74,214.15 668.62,213.19 669.50,212.33 670.38,211.58 671.26,210.98" fill="none" stroke="#2f85c0" stroke-width="3.0" stroke-linejoin="round"/>
<path d="M405.50,195.65h0.01M408.14,189.02h0.01M410.78,199.61h0.01M413.42,213.06h0.01M416.06,224.47h0.01M418.70,223.37h0.01M421.34,220.94h0.01M423.98,217.39h0.01M426.62,213.45h0.01M429.26,210.52h0.01M431.90,209.87h0.01M434.54,210.30h0.01M437.18,211.17h0.01M439.82,214.01h0.01M442.46,219.52h0.01M445.10,222.27h0.01M447.74,224.46h0.01M450.38,225.67h0.01M453.02,225.34h0.01M455.66,223.69h0.01M458.30,219.43h0.01M460.94,214.35h0.01M463.58,210.62h0.01M466.22,207.21h0.01M468.86,204.37h0.01M471.50,202.05h0.01M474.14,200.10h0.01M476.78,199.65h0.01M479.42,200.25h0.01M482.06,201.31h0.01M484.70,204.35h0.01M487.34,208.70h0.01M489.98,211.70h0.01M492.62,214.15h0.01M495.26,216.22h0.01M497.90,217.79h0.01M500.54,216.95h0.01M503.18,214.81h0.01M505.82,211.91h0.01M508.46,207.37h0.01M511.10,202.17h0.01M513.74,196.16h0.01M516.38,189.60h0.01M519.02,182.46h0.01M521.66,175.23h0.01M524.30,168.92h0.01M526.94,163.16h0.01M529.58,160.03h0.01M532.22,158.27h0.01M534.86,157.54h0.01M537.50,158.51h0.01M540.14,160.53h0.01M542.78,163.84h0.01M545.42,168.42h0.01M548.06,173.96h0.01M550.70,179.40h0.01M553.34,184.85h0.01M555.98,190.03h0.01M558.62,194.84h0.01M561.26,199.24h0.01M563.90,202.51h0.01M566.54,205.24h0.01M569.18,206.92h0.01M571.82,207.53h0.01M574.46,207.90h0.01M577.10,207.76h0.01M579.74,206.31h0.01M582.38,204.79h0.01M585.02,203.84h0.01M587.66,203.00h0.01M590.30,202.50h0.01M592.94,202.55h0.01M595.58,203.02h0.01M598.22,203.69h0.01M600.86,204.91h0.01M603.50,206.48h0.01M606.14,207.96h0.01M608.78,209.65h0.01M611.42,210.95h0.01M614.06,211.24h0.01M616.70,210.91h0.01M619.34,210.30h0.01M621.98,208.89h0.01M624.62,206.34h0.01M627.26,203.97h0.01M629.90,201.38h0.01M632.54,199.08h0.01M635.18,198.13h0.01M637.82,198.13h0.01M640.46,198.57h0.01M643.10,202.37h0.01M645.74,206.47h0.01M648.38,211.07h0.01M651.02,215.36h0.01M653.66,219.84h0.01M656.30,223.12h0.01M658.94,224.03h0.01M661.58,224.31h0.01M664.22,219.63h0.01M666.86,215.20h0.01M669.50,212.33h0.01" stroke="#2f85c0" stroke-width="3.6" stroke-linecap="round" fill="none"/>
<polyline points="54.45,434.39 55.36,446.70 56.27,447.57 57.18,440.76 58.09,433.10 59.00,433.29 59.91,440.69 60.82,444.06 61.73,449.78 62.63,438.16 63.54,434.71 64.45,439.58 65.36,435.82 66.27,426.92 67.18,431.58 68.09,439.62 69.00,439.37 69.91,439.85 70.82,440.18 71.73,439.52 72.64,437.99 73.55,434.73 74.46,436.16 75.37,437.99 76.28,434.22 77.19,435.94 78.09,443.08 79.00,444.91 79.91,445.42 80.82,447.57 81.73,445.77 82.64,441.71 83.55,437.91 84.46,440.43 85.37,442.37 86.28,442.17 87.19,438.67 88.10,429.04 89.01,417.94 89.92,425.98 90.83,427.06 91.74,431.85 92.64,439.29 93.55,437.88 94.46,437.67 95.37,439.50 96.28,444.29 97.19,442.28 98.10,433.11 99.01,424.45 99.92,420.15 100.83,425.15 101.74,429.15 102.65,433.39 103.56,435.01 104.47,428.15 105.38,420.97 106.29,419.01 107.20,419.14 108.10,419.22 109.01,421.40 109.92,421.60 110.83,419.01 111.74,422.98 112.65,423.32 113.56,427.79 114.47,429.65 115.38,428.06 116.29,426.02 117.20,423.62 118.11,417.94 119.02,423.05 119.93,428.62 120.84,432.13 121.75,431.50 122.66,437.16 123.56,440.58 124.47,437.14 125.38,430.46 126.29,432.70 127.20,438.58 128.11,437.11 129.02,433.70 129.93,436.97 130.84,436.73 131.75,432.60 132.66,435.72 133.57,438.09 134.48,442.08 135.39,436.89 136.30,429.56 137.21,421.30 138.11,420.78 139.02,413.52 139.93,423.92 140.84,428.58 141.75,427.78 142.66,426.70 143.57,428.28 144.48,430.18 145.39,430.55 146.30,428.46 147.21,425.98 148.12,425.58 149.03,420.51 149.94,414.47 150.85,420.99 151.76,425.60 152.67,418.44 153.57,419.85 154.48,424.27 155.39,420.78 156.30,421.86 157.21,423.24 158.12,418.54 159.03,410.25 159.94,415.54 160.85,416.76 161.76,424.33 162.67,429.20 163.58,438.81 164.49,431.97 165.40,428.00 166.31,426.34 167.22,430.91 168.12,430.31 169.03,424.97 169.94,423.02 170.85,425.09 171.76,423.30 172.67,418.82 173.58,416.17 174.49,413.52 175.40,416.18 176.31,416.60 177.22,420.59 178.13,431.70 179.04,443.15 179.95,434.32 180.86,431.20 181.77,426.86 182.68,421.11 183.58,417.43 184.49,417.22 185.40,422.88 186.31,419.87 187.22,413.52 188.13,415.94 189.04,422.60 189.95,421.90 190.86,426.52 191.77,434.50 192.68,432.67 193.59,425.46 194.50,421.72 195.41,426.38 196.32,426.55 197.23,421.37 198.14,415.57 199.04,434.85 199.95,438.65 200.86,429.95 201.77,425.95 202.68,430.99 203.59,432.53 204.50,429.22 205.41,429.83 206.32,433.52 207.23,429.94 208.14,418.56 209.05,419.01 209.96,421.56 210.87,418.43 211.78,420.06 212.69,430.18 213.60,432.61 214.50,425.34 215.41,421.85 216.32,424.94 217.23,429.19 218.14,433.16 219.05,423.88 219.96,416.32 220.87,420.89 221.78,418.34 222.69,411.90 223.60,411.23 224.51,416.89 225.42,417.24 226.33,413.69 227.24,410.90 228.15,412.21 229.05,410.09 229.96,412.13 230.87,408.78 231.78,405.29 232.69,412.12 233.60,420.60 234.51,415.95 235.42,407.85 236.33,413.52 237.24,418.35 238.15,414.81 239.06,405.35 239.97,402.74 240.88,405.22 241.79,401.63 242.70,400.02 243.61,404.53 244.51,400.68 245.42,391.97 246.33,400.68 247.24,399.31 248.15,390.31 249.06,382.67 249.97,377.57 250.88,374.29 251.79,376.13 252.70,377.22 253.61,385.95 254.52,399.86 255.43,403.95 256.34,394.88 257.25,395.57 258.16,400.10 259.06,405.93 259.97,413.85 260.88,410.82 261.79,414.85 262.70,426.15 263.61,430.95 264.52,422.16 265.43,418.44 266.34,421.39 267.25,421.49 268.16,418.81 269.07,415.04 269.98,415.83 270.89,421.25 271.80,423.96 272.71,419.85 273.62,415.29 274.52,419.59 275.43,426.40 276.34,432.02 277.25,431.45 278.16,423.34 279.07,412.88 279.98,405.75 280.89,430.43 281.80,430.95 282.71,428.52 283.62,424.85 284.53,421.10 285.44,415.39 286.35,410.09 287.26,412.19 288.17,410.86 289.08,407.99 289.98,406.61 290.89,409.72 291.80,414.35 292.71,413.43 293.62,411.17 294.53,410.67 295.44,406.58 296.35,406.00 297.26,410.47 298.17,406.81 299.08,407.77 299.99,410.18 300.90,418.82 301.81,425.47 302.72,416.47 303.63,409.44 304.54,412.40 305.44,415.06 306.35,415.12 307.26,416.62 308.17,420.52 309.08,420.01 309.99,414.74 310.90,415.03 311.81,417.34 312.72,422.36 313.63,426.72 314.54,422.38 315.45,423.01 316.36,426.54 317.27,418.87 318.18,416.36 319.09,413.44 319.99,416.55 320.90,420.56" fill="none" stroke="#2f85c0" stroke-width="1.45" stroke-dasharray="3.6,2.0" stroke-linejoin="round"/>
<path d="M54.45,434.39h0.01M55.36,446.70h0.01M56.27,447.57h0.01M57.18,440.76h0.01M58.09,433.10h0.01M59.00,433.29h0.01M59.91,440.69h0.01M60.82,444.06h0.01M61.73,449.78h0.01M62.63,438.16h0.01M63.54,434.71h0.01M64.45,439.58h0.01M65.36,435.82h0.01M66.27,426.92h0.01M67.18,431.58h0.01M68.09,439.62h0.01M69.00,439.37h0.01M69.91,439.85h0.01M70.82,440.18h0.01M71.73,439.52h0.01M72.64,437.99h0.01M73.55,434.73h0.01M74.46,436.16h0.01M75.37,437.99h0.01M76.28,434.22h0.01M77.19,435.94h0.01M78.09,443.08h0.01M79.00,444.91h0.01M79.91,445.42h0.01M80.82,447.57h0.01M81.73,445.77h0.01M82.64,441.71h0.01M83.55,437.91h0.01M84.46,440.43h0.01M85.37,442.37h0.01M86.28,442.17h0.01M87.19,438.67h0.01M88.10,429.04h0.01M89.01,417.94h0.01M89.92,425.98h0.01M90.83,427.06h0.01M91.74,431.85h0.01M92.64,439.29h0.01M93.55,437.88h0.01M94.46,437.67h0.01M95.37,439.50h0.01M96.28,444.29h0.01M97.19,442.28h0.01M98.10,433.11h0.01M99.01,424.45h0.01M99.92,420.15h0.01M100.83,425.15h0.01M101.74,429.15h0.01M102.65,433.39h0.01M103.56,435.01h0.01M104.47,428.15h0.01M105.38,420.97h0.01M106.29,419.01h0.01M107.20,419.14h0.01M108.10,419.22h0.01M109.01,421.40h0.01M109.92,421.60h0.01M110.83,419.01h0.01M111.74,422.98h0.01M112.65,423.32h0.01M113.56,427.79h0.01M114.47,429.65h0.01M115.38,428.06h0.01M116.29,426.02h0.01M117.20,423.62h0.01M118.11,417.94h0.01M119.02,423.05h0.01M119.93,428.62h0.01M120.84,432.13h0.01M121.75,431.50h0.01M122.66,437.16h0.01M123.56,440.58h0.01M124.47,437.14h0.01M125.38,430.46h0.01M126.29,432.70h0.01M127.20,438.58h0.01M128.11,437.11h0.01M129.02,433.70h0.01M129.93,436.97h0.01M130.84,436.73h0.01M131.75,432.60h0.01M132.66,435.72h0.01M133.57,438.09h0.01M134.48,442.08h0.01M135.39,436.89h0.01M136.30,429.56h0.01M137.21,421.30h0.01M138.11,420.78h0.01M139.02,413.52h0.01M139.93,423.92h0.01M140.84,428.58h0.01M141.75,427.78h0.01M142.66,426.70h0.01M143.57,428.28h0.01M144.48,430.18h0.01M145.39,430.55h0.01M146.30,428.46h0.01M147.21,425.98h0.01M148.12,425.58h0.01M149.03,420.51h0.01M149.94,414.47h0.01M150.85,420.99h0.01M151.76,425.60h0.01M152.67,418.44h0.01M153.57,419.85h0.01M154.48,424.27h0.01M155.39,420.78h0.01M156.30,421.86h0.01M157.21,423.24h0.01M158.12,418.54h0.01M159.03,410.25h0.01M159.94,415.54h0.01M160.85,416.76h0.01M161.76,424.33h0.01M162.67,429.20h0.01M163.58,438.81h0.01M164.49,431.97h0.01M165.40,428.00h0.01M166.31,426.34h0.01M167.22,430.91h0.01M168.12,430.31h0.01M169.03,424.97h0.01M169.94,423.02h0.01M170.85,425.09h0.01M171.76,423.30h0.01M172.67,418.82h0.01M173.58,416.17h0.01M174.49,413.52h0.01M175.40,416.18h0.01M176.31,416.60h0.01M177.22,420.59h0.01M178.13,431.70h0.01M179.04,443.15h0.01M179.95,434.32h0.01M180.86,431.20h0.01M181.77,426.86h0.01M182.68,421.11h0.01M183.58,417.43h0.01M184.49,417.22h0.01M185.40,422.88h0.01M186.31,419.87h0.01M187.22,413.52h0.01M188.13,415.94h0.01M189.04,422.60h0.01M189.95,421.90h0.01M190.86,426.52h0.01M191.77,434.50h0.01M192.68,432.67h0.01M193.59,425.46h0.01M194.50,421.72h0.01M195.41,426.38h0.01M196.32,426.55h0.01M197.23,421.37h0.01M198.14,415.57h0.01M199.04,434.85h0.01M199.95,438.65h0.01M200.86,429.95h0.01M201.77,425.95h0.01M202.68,430.99h0.01M203.59,432.53h0.01M204.50,429.22h0.01M205.41,429.83h0.01M206.32,433.52h0.01M207.23,429.94h0.01M208.14,418.56h0.01M209.05,419.01h0.01M209.96,421.56h0.01M210.87,418.43h0.01M211.78,420.06h0.01M212.69,430.18h0.01M213.60,432.61h0.01M214.50,425.34h0.01M215.41,421.85h0.01M216.32,424.94h0.01M217.23,429.19h0.01M218.14,433.16h0.01M219.05,423.88h0.01M219.96,416.32h0.01M220.87,420.89h0.01M221.78,418.34h0.01M222.69,411.90h0.01M223.60,411.23h0.01M224.51,416.89h0.01M225.42,417.24h0.01M226.33,413.69h0.01M227.24,410.90h0.01M228.15,412.21h0.01M229.05,410.09h0.01M229.96,412.13h0.01M230.87,408.78h0.01M231.78,405.29h0.01M232.69,412.12h0.01M233.60,420.60h0.01M234.51,415.95h0.01M235.42,407.85h0.01M236.33,413.52h0.01M237.24,418.35h0.01M238.15,414.81h0.01M239.06,405.35h0.01M239.97,402.74h0.01M240.88,405.22h0.01M241.79,401.63h0.01M242.70,400.02h0.01M243.61,404.53h0.01M244.51,400.68h0.01M245.42,391.97h0.01M246.33,400.68h0.01M247.24,399.31h0.01M248.15,390.31h0.01M249.06,382.67h0.01M249.97,377.57h0.01M250.88,374.29h0.01M251.79,376.13h0.01M252.70,377.22h0.01M253.61,385.95h0.01M254.52,399.86h0.01M255.43,403.95h0.01M256.34,394.88h0.01M257.25,395.57h0.01M258.16,400.10h0.01M259.06,405.93h0.01M259.97,413.85h0.01M260.88,410.82h0.01M261.79,414.85h0.01M262.70,426.15h0.01M263.61,430.95h0.01M264.52,422.16h0.01M265.43,418.44h0.01M266.34,421.39h0.01M267.25,421.49h0.01M268.16,418.81h0.01M269.07,415.04h0.01M269.98,415.83h0.01M270.89,421.25h0.01M271.80,423.96h0.01M272.71,419.85h0.01M273.62,415.29h0.01M274.52,419.59h0.01M275.43,426.40h0.01M276.34,432.02h0.01M277.25,431.45h0.01M278.16,423.34h0.01M279.07,412.88h0.01M279.98,405.75h0.01M280.89,430.43h0.01M281.80,430.95h0.01M282.71,428.52h0.01M283.62,424.85h0.01M284.53,421.10h0.01M285.44,415.39h0.01M286.35,410.09h0.01M287.26,412.19h0.01M288.17,410.86h0.01M289.08,407.99h0.01M289.98,406.61h0.01M290.89,409.72h0.01M291.80,414.35h0.01M292.71,413.43h0.01M293.62,411.17h0.01M294.53,410.67h0.01M295.44,406.58h0.01M296.35,406.00h0.01M297.26,410.47h0.01M298.17,406.81h0.01M299.08,407.77h0.01M299.99,410.18h0.01M300.90,418.82h0.01M301.81,425.47h0.01M302.72,416.47h0.01M303.63,409.44h0.01M304.54,412.40h0.01M305.44,415.06h0.01M306.35,415.12h0.01M307.26,416.62h0.01M308.17,420.52h0.01M309.08,420.01h0.01M309.99,414.74h0.01M310.90,415.03h0.01M311.81,417.34h0.01M312.72,422.36h0.01M313.63,426.72h0.01M314.54,422.38h0.01M315.45,423.01h0.01M316.36,426.54h0.01M317.27,418.87h0.01M318.18,416.36h0.01M319.09,413.44h0.01M319.99,416.55h0.01M320.90,420.56h0.01" stroke="#2f85c0" stroke-width="1.7" stroke-linecap="round" fill="none"/>
<polyline points="54.45,438.32 55.36,437.58 56.27,436.87 57.18,436.21 58.09,435.60 59.00,435.04 59.91,434.53 60.82,434.07 61.73,433.67 62.63,433.33 63.54,433.01 64.45,432.70 65.36,432.44 66.27,432.25 67.18,432.18 68.09,432.32 69.00,432.69 69.91,433.22 70.82,433.83 71.73,434.46 72.64,435.02 73.55,435.45 74.46,435.81 75.37,436.17 76.28,436.53 77.19,436.87 78.09,437.16 79.00,437.41 79.91,437.58 80.82,437.66 81.73,437.62 82.64,437.44 83.55,437.13 84.46,436.73 85.37,436.27 86.28,435.77 87.19,435.27 88.10,434.80 89.01,434.39 89.92,434.00 90.83,433.59 91.74,433.17 92.64,432.73 93.55,432.30 94.46,431.88 95.37,431.47 96.28,431.09 97.19,430.74 98.10,430.43 99.01,430.17 99.92,429.97 100.83,429.80 101.74,429.64 102.65,429.48 103.56,429.33 104.47,429.20 105.38,429.09 106.29,429.00 107.20,428.94 108.10,428.91 109.01,428.92 109.92,428.96 110.83,429.04 111.74,429.15 112.65,429.28 113.56,429.42 114.47,429.57 115.38,429.71 116.29,429.85 117.20,429.97 118.11,430.10 119.02,430.24 119.93,430.39 120.84,430.54 121.75,430.69 122.66,430.82 123.56,430.94 124.47,431.03 125.38,431.10 126.29,431.12 127.20,431.07 128.11,430.95 129.02,430.76 129.93,430.51 130.84,430.22 131.75,429.90 132.66,429.55 133.57,429.18 134.48,428.82 135.39,428.47 136.30,428.14 137.21,427.84 138.11,427.56 139.02,427.27 139.93,426.98 140.84,426.68 141.75,426.38 142.66,426.08 143.57,425.79 144.48,425.50 145.39,425.22 146.30,424.96 147.21,424.72 148.12,424.49 149.03,424.27 149.94,424.03 150.85,423.79 151.76,423.55 152.67,423.32 153.57,423.10 154.48,422.90 155.39,422.72 156.30,422.57 157.21,422.46 158.12,422.39 159.03,422.36 159.94,422.39 160.85,422.45 161.76,422.55 162.67,422.67 163.58,422.81 164.49,422.95 165.40,423.10 166.31,423.25 167.22,423.38 168.12,423.49 169.03,423.61 169.94,423.72 170.85,423.84 171.76,423.95 172.67,424.06 173.58,424.17 174.49,424.28 175.40,424.39 176.31,424.49 177.22,424.59 178.13,424.69 179.04,424.80 179.95,424.91 180.86,425.01 181.77,425.11 182.68,425.21 183.58,425.30 184.49,425.38 185.40,425.45 186.31,425.51 187.22,425.55 188.13,425.59 189.04,425.63 189.95,425.67 190.86,425.70 191.77,425.74 192.68,425.77 193.59,425.79 194.50,425.82 195.41,425.84 196.32,425.86 197.23,425.87 198.14,425.88 199.04,425.88 199.95,425.87 200.86,425.86 201.77,425.83 202.68,425.79 203.59,425.74 204.50,425.69 205.41,425.63 206.32,425.56 207.23,425.49 208.14,425.41 209.05,425.28 209.96,425.11 210.87,424.91 211.78,424.68 212.69,424.43 213.60,424.15 214.50,423.86 215.41,423.56 216.32,423.26 217.23,422.94 218.14,422.58 219.05,422.18 219.96,421.75 220.87,421.29 221.78,420.81 222.69,420.31 223.60,419.79 224.51,419.25 225.42,418.70 226.33,418.12 227.24,417.51 228.15,416.86 229.05,416.18 229.96,415.47 230.87,414.74 231.78,414.00 232.69,413.23 233.60,412.45 234.51,411.63 235.42,410.72 236.33,409.74 237.24,408.72 238.15,407.69 239.06,406.68 239.97,405.72 240.88,404.84 241.79,404.06 242.70,403.42 243.61,402.81 244.51,402.19 245.42,401.61 246.33,401.09 247.24,400.67 248.15,400.39 249.06,400.27 249.97,400.32 250.88,400.47 251.79,400.72 252.70,401.05 253.61,401.44 254.52,401.87 255.43,402.34 256.34,402.89 257.25,403.70 258.16,404.71 259.06,405.87 259.97,407.11 260.88,408.35 261.79,409.54 262.70,410.63 263.61,411.76 264.52,412.93 265.43,414.10 266.34,415.23 267.25,416.28 268.16,417.21 269.07,418.01 269.98,418.78 270.89,419.56 271.80,420.33 272.71,421.06 273.62,421.72 274.52,422.29 275.43,422.76 276.34,423.08 277.25,423.25 278.16,423.24 279.07,423.10 279.98,422.87 280.89,422.55 281.80,422.17 282.71,421.76 283.62,421.32 284.53,420.86 285.44,420.28 286.35,419.57 287.26,418.77 288.17,417.92 289.08,417.05 289.98,416.21 290.89,415.41 291.80,414.53 292.71,413.54 293.62,412.53 294.53,411.59 295.44,410.82 296.35,410.28 297.26,410.09 298.17,410.15 299.08,410.32 299.99,410.59 300.90,410.92 301.81,411.31 302.72,411.73 303.63,412.17 304.54,412.69 305.44,413.50 306.35,414.49 307.26,415.53 308.17,416.50 309.08,417.27 309.99,417.72 310.90,417.78 311.81,417.78 312.72,417.78 313.63,417.78 314.54,417.78 315.45,417.78 316.36,417.78 317.27,417.77 318.18,417.67 319.09,417.46 319.99,417.18 320.90,416.87" fill="none" stroke="#2f85c0" stroke-width="3.0" stroke-linejoin="round"/>
<path d="M54.45,438.32h0.01M57.18,436.21h0.01M59.91,434.53h0.01M62.63,433.33h0.01M65.36,432.44h0.01M68.09,432.32h0.01M70.82,433.83h0.01M73.55,435.45h0.01M76.28,436.53h0.01M79.00,437.41h0.01M81.73,437.62h0.01M84.46,436.73h0.01M87.19,435.27h0.01M89.92,434.00h0.01M92.64,432.73h0.01M95.37,431.47h0.01M98.10,430.43h0.01M100.83,429.80h0.01M103.56,429.33h0.01M106.29,429.00h0.01M109.01,428.92h0.01M111.74,429.15h0.01M114.47,429.57h0.01M117.20,429.97h0.01M119.93,430.39h0.01M122.66,430.82h0.01M125.38,431.10h0.01M128.11,430.95h0.01M130.84,430.22h0.01M133.57,429.18h0.01M136.30,428.14h0.01M139.02,427.27h0.01M141.75,426.38h0.01M144.48,425.50h0.01M147.21,424.72h0.01M149.94,424.03h0.01M152.67,423.32h0.01M155.39,422.72h0.01M158.12,422.39h0.01M160.85,422.45h0.01M163.58,422.81h0.01M166.31,423.25h0.01M169.03,423.61h0.01M171.76,423.95h0.01M174.49,424.28h0.01M177.22,424.59h0.01M179.95,424.91h0.01M182.68,425.21h0.01M185.40,425.45h0.01M188.13,425.59h0.01M190.86,425.70h0.01M193.59,425.79h0.01M196.32,425.86h0.01M199.04,425.88h0.01M201.77,425.83h0.01M204.50,425.69h0.01M207.23,425.49h0.01M209.96,425.11h0.01M212.69,424.43h0.01M215.41,423.56h0.01M218.14,422.58h0.01M220.87,421.29h0.01M223.60,419.79h0.01M226.33,418.12h0.01M229.05,416.18h0.01M231.78,414.00h0.01M234.51,411.63h0.01M237.24,408.72h0.01M239.97,405.72h0.01M242.70,403.42h0.01M245.42,401.61h0.01M248.15,400.39h0.01M250.88,400.47h0.01M253.61,401.44h0.01M256.34,402.89h0.01M259.06,405.87h0.01M261.79,409.54h0.01M264.52,412.93h0.01M267.25,416.28h0.01M269.98,418.78h0.01M272.71,421.06h0.01M275.43,422.76h0.01M278.16,423.24h0.01M280.89,422.55h0.01M283.62,421.32h0.01M286.35,419.57h0.01M289.08,417.05h0.01M291.80,414.53h0.01M294.53,411.59h0.01M297.26,410.09h0.01M299.99,410.59h0.01M302.72,411.73h0.01M305.44,413.50h0.01M308.17,416.50h0.01M310.90,417.78h0.01M313.63,417.78h0.01M316.36,417.78h0.01M319.09,417.46h0.01" stroke="#2f85c0" stroke-width="3.6" stroke-linecap="round" fill="none"/>
<polyline points="54.45,622.68 55.36,619.10 56.27,623.91 57.18,620.15 58.09,609.69 59.00,606.75 59.91,606.45 60.82,606.24 61.73,608.21 62.63,609.80 63.54,612.75 64.45,617.45 65.36,616.34 66.27,612.79 67.18,613.03 68.09,615.26 69.00,623.75 69.91,601.34 70.82,602.52 71.73,600.75 72.64,606.19 73.55,612.20 74.46,611.05 75.37,612.10 76.28,619.07 77.19,619.14 78.09,613.76 79.00,610.47 79.91,606.46 80.82,605.80 81.73,607.90 82.64,607.19 83.55,606.84 84.46,606.61 85.37,605.68 86.28,604.02 87.19,608.48 88.10,611.05 89.01,610.02 89.92,611.61 90.83,610.91 91.74,606.54 92.64,609.96 93.55,616.39 94.46,620.39 95.37,630.29 96.28,620.91 97.19,615.01 98.10,615.02 99.01,617.98 99.92,612.12 100.83,609.52 101.74,611.03 102.65,608.55 103.56,600.75 104.47,611.32 105.38,614.68 106.29,614.25 107.20,615.01 108.10,612.87 109.01,610.43 109.92,611.45 110.83,609.50 111.74,610.24 112.65,614.88 113.56,619.00 114.47,622.78 115.38,625.96 116.29,620.11 117.20,618.73 118.11,618.06 119.02,615.47 119.93,613.47 120.84,613.70 121.75,613.42 122.66,612.49 123.56,614.10 124.47,614.32 125.38,609.97 126.29,608.95 127.20,614.12 128.11,612.12 129.02,607.40 129.93,612.37 130.84,615.09 131.75,611.42 132.66,605.71 133.57,600.88 134.48,594.61 135.39,601.09 136.30,602.35 137.21,605.97 138.11,608.52 139.02,607.33 139.93,612.47 140.84,618.12 141.75,615.06 142.66,610.72 143.57,609.04 144.48,607.03 145.39,604.71 146.30,603.56 147.21,600.26 148.12,603.46 149.03,618.92 149.94,621.12 150.85,622.68 151.76,621.30 152.67,620.45 153.57,620.15 154.48,620.19 155.39,620.61 156.30,610.79 157.21,603.30 158.12,606.35 159.03,612.15 159.94,615.69 160.85,617.08 161.76,616.47 162.67,615.58 163.58,617.12 164.49,620.31 165.40,625.96 166.31,617.85 167.22,615.08 168.12,622.92 169.03,621.05 169.94,611.34 170.85,605.09 171.76,609.63 172.67,612.22 173.58,613.32 174.49,611.51 175.40,611.71 176.31,615.39 177.22,615.85 178.13,614.70 179.04,619.79 179.95,627.02 180.86,619.91 181.77,614.45 182.68,613.70 183.58,615.78 184.49,617.60 185.40,620.71 186.31,620.98 187.22,619.02 188.13,619.69 189.04,616.51 189.95,611.06 190.86,612.11 191.77,608.36 192.68,608.75 193.59,612.05 194.50,615.81 195.41,619.41 196.32,624.81 197.23,624.88 198.14,624.75 199.04,618.20 199.95,618.43 200.86,622.92 201.77,620.47 202.68,616.11 203.59,613.01 204.50,614.54 205.41,618.78 206.32,618.19 207.23,613.09 208.14,605.57 209.05,605.41 209.96,607.14 210.87,611.84 211.78,611.16 212.69,609.93 213.60,607.38 214.50,605.09 215.41,608.95 216.32,613.40 217.23,611.84 218.14,608.67 219.05,607.57 219.96,604.67 220.87,606.05 221.78,610.60 222.69,616.03 223.60,622.68 224.51,615.26 225.42,607.30 226.33,609.63 227.24,611.08 228.15,605.89 229.05,604.37 229.96,606.62 230.87,606.23 231.78,606.79 232.69,610.41 233.60,616.33 234.51,614.92 235.42,615.17 236.33,616.91 237.24,614.75 238.15,612.73 239.06,613.58 239.97,618.23 240.88,621.41 241.79,617.28 242.70,608.04 243.61,604.27 244.51,604.46 245.42,604.69 246.33,605.44 247.24,611.75 248.15,618.04 249.06,614.17 249.97,608.70 250.88,602.47 251.79,609.29 252.70,610.17 253.61,614.99 254.52,619.86 255.43,620.13 256.34,615.49 257.25,633.65 258.16,608.36 259.06,626.50 259.97,628.16 260.88,627.19 261.79,619.41 262.70,614.20 263.61,617.61 264.52,622.21 265.43,621.55 266.34,617.95 267.25,619.70 268.16,622.68 269.07,621.77 269.98,616.28 270.89,615.29 271.80,619.50 272.71,621.31 273.62,617.14 274.52,609.33 275.43,609.75 276.34,617.48 277.25,617.46 278.16,607.90 279.07,605.28 279.98,605.20 280.89,612.20 281.80,621.86 282.71,617.92 283.62,609.46 284.53,605.58 285.44,609.15 286.35,613.55 287.26,615.07 288.17,612.38 289.08,612.80 289.98,612.46 290.89,609.45 291.80,606.34 292.71,604.68 293.62,616.78 294.53,624.81 295.44,621.10 296.35,615.58 297.26,612.16 298.17,612.96 299.08,609.61 299.99,606.67 300.90,610.28 301.81,616.11 302.72,618.82 303.63,620.47 304.54,609.23 305.44,606.21 306.35,602.47 307.26,609.81 308.17,613.08 309.08,612.11 309.99,608.31 310.90,609.99 311.81,614.22 312.72,613.61 313.63,608.71 314.54,607.39 315.45,607.56 316.36,606.23 317.27,613.15 318.18,618.38 319.09,618.91 319.99,613.27 320.90,612.42" fill="none" stroke="#f15289" stroke-width="1.45" stroke-dasharray="3.6,2.0" stroke-linejoin="round"/>
<path d="M54.45,622.68h0.01M55.36,619.10h0.01M56.27,623.91h0.01M57.18,620.15h0.01M58.09,609.69h0.01M59.00,606.75h0.01M59.91,606.45h0.01M60.82,606.24h0.01M61.73,608.21h0.01M62.63,609.80h0.01M63.54,612.75h0.01M64.45,617.45h0.01M65.36,616.34h0.01M66.27,612.79h0.01M67.18,613.03h0.01M68.09,615.26h0.01M69.00,623.75h0.01M69.91,601.34h0.01M70.82,602.52h0.01M71.73,600.75h0.01M72.64,606.19h0.01M73.55,612.20h0.01M74.46,611.05h0.01M75.37,612.10h0.01M76.28,619.07h0.01M77.19,619.14h0.01M78.09,613.76h0.01M79.00,610.47h0.01M79.91,606.46h0.01M80.82,605.80h0.01M81.73,607.90h0.01M82.64,607.19h0.01M83.55,606.84h0.01M84.46,606.61h0.01M85.37,605.68h0.01M86.28,604.02h0.01M87.19,608.48h0.01M88.10,611.05h0.01M89.01,610.02h0.01M89.92,611.61h0.01M90.83,610.91h0.01M91.74,606.54h0.01M92.64,609.96h0.01M93.55,616.39h0.01M94.46,620.39h0.01M95.37,630.29h0.01M96.28,620.91h0.01M97.19,615.01h0.01M98.10,615.02h0.01M99.01,617.98h0.01M99.92,612.12h0.01M100.83,609.52h0.01M101.74,611.03h0.01M102.65,608.55h0.01M103.56,600.75h0.01M104.47,611.32h0.01M105.38,614.68h0.01M106.29,614.25h0.01M107.20,615.01h0.01M108.10,612.87h0.01M109.01,610.43h0.01M109.92,611.45h0.01M110.83,609.50h0.01M111.74,610.24h0.01M112.65,614.88h0.01M113.56,619.00h0.01M114.47,622.78h0.01M115.38,625.96h0.01M116.29,620.11h0.01M117.20,618.73h0.01M118.11,618.06h0.01M119.02,615.47h0.01M119.93,613.47h0.01M120.84,613.70h0.01M121.75,613.42h0.01M122.66,612.49h0.01M123.56,614.10h0.01M124.47,614.32h0.01M125.38,609.97h0.01M126.29,608.95h0.01M127.20,614.12h0.01M128.11,612.12h0.01M129.02,607.40h0.01M129.93,612.37h0.01M130.84,615.09h0.01M131.75,611.42h0.01M132.66,605.71h0.01M133.57,600.88h0.01M134.48,594.61h0.01M135.39,601.09h0.01M136.30,602.35h0.01M137.21,605.97h0.01M138.11,608.52h0.01M139.02,607.33h0.01M139.93,612.47h0.01M140.84,618.12h0.01M141.75,615.06h0.01M142.66,610.72h0.01M143.57,609.04h0.01M144.48,607.03h0.01M145.39,604.71h0.01M146.30,603.56h0.01M147.21,600.26h0.01M148.12,603.46h0.01M149.03,618.92h0.01M149.94,621.12h0.01M150.85,622.68h0.01M151.76,621.30h0.01M152.67,620.45h0.01M153.57,620.15h0.01M154.48,620.19h0.01M155.39,620.61h0.01M156.30,610.79h0.01M157.21,603.30h0.01M158.12,606.35h0.01M159.03,612.15h0.01M159.94,615.69h0.01M160.85,617.08h0.01M161.76,616.47h0.01M162.67,615.58h0.01M163.58,617.12h0.01M164.49,620.31h0.01M165.40,625.96h0.01M166.31,617.85h0.01M167.22,615.08h0.01M168.12,622.92h0.01M169.03,621.05h0.01M169.94,611.34h0.01M170.85,605.09h0.01M171.76,609.63h0.01M172.67,612.22h0.01M173.58,613.32h0.01M174.49,611.51h0.01M175.40,611.71h0.01M176.31,615.39h0.01M177.22,615.85h0.01M178.13,614.70h0.01M179.04,619.79h0.01M179.95,627.02h0.01M180.86,619.91h0.01M181.77,614.45h0.01M182.68,613.70h0.01M183.58,615.78h0.01M184.49,617.60h0.01M185.40,620.71h0.01M186.31,620.98h0.01M187.22,619.02h0.01M188.13,619.69h0.01M189.04,616.51h0.01M189.95,611.06h0.01M190.86,612.11h0.01M191.77,608.36h0.01M192.68,608.75h0.01M193.59,612.05h0.01M194.50,615.81h0.01M195.41,619.41h0.01M196.32,624.81h0.01M197.23,624.88h0.01M198.14,624.75h0.01M199.04,618.20h0.01M199.95,618.43h0.01M200.86,622.92h0.01M201.77,620.47h0.01M202.68,616.11h0.01M203.59,613.01h0.01M204.50,614.54h0.01M205.41,618.78h0.01M206.32,618.19h0.01M207.23,613.09h0.01M208.14,605.57h0.01M209.05,605.41h0.01M209.96,607.14h0.01M210.87,611.84h0.01M211.78,611.16h0.01M212.69,609.93h0.01M213.60,607.38h0.01M214.50,605.09h0.01M215.41,608.95h0.01M216.32,613.40h0.01M217.23,611.84h0.01M218.14,608.67h0.01M219.05,607.57h0.01M219.96,604.67h0.01M220.87,606.05h0.01M221.78,610.60h0.01M222.69,616.03h0.01M223.60,622.68h0.01M224.51,615.26h0.01M225.42,607.30h0.01M226.33,609.63h0.01M227.24,611.08h0.01M228.15,605.89h0.01M229.05,604.37h0.01M229.96,606.62h0.01M230.87,606.23h0.01M231.78,606.79h0.01M232.69,610.41h0.01M233.60,616.33h0.01M234.51,614.92h0.01M235.42,615.17h0.01M236.33,616.91h0.01M237.24,614.75h0.01M238.15,612.73h0.01M239.06,613.58h0.01M239.97,618.23h0.01M240.88,621.41h0.01M241.79,617.28h0.01M242.70,608.04h0.01M243.61,604.27h0.01M244.51,604.46h0.01M245.42,604.69h0.01M246.33,605.44h0.01M247.24,611.75h0.01M248.15,618.04h0.01M249.06,614.17h0.01M249.97,608.70h0.01M250.88,602.47h0.01M251.79,609.29h0.01M252.70,610.17h0.01M253.61,614.99h0.01M254.52,619.86h0.01M255.43,620.13h0.01M256.34,615.49h0.01M257.25,633.65h0.01M258.16,608.36h0.01M259.06,626.50h0.01M259.97,628.16h0.01M260.88,627.19h0.01M261.79,619.41h0.01M262.70,614.20h0.01M263.61,617.61h0.01M264.52,622.21h0.01M265.43,621.55h0.01M266.34,617.95h0.01M267.25,619.70h0.01M268.16,622.68h0.01M269.07,621.77h0.01M269.98,616.28h0.01M270.89,615.29h0.01M271.80,619.50h0.01M272.71,621.31h0.01M273.62,617.14h0.01M274.52,609.33h0.01M275.43,609.75h0.01M276.34,617.48h0.01M277.25,617.46h0.01M278.16,607.90h0.01M279.07,605.28h0.01M279.98,605.20h0.01M280.89,612.20h0.01M281.80,621.86h0.01M282.71,617.92h0.01M283.62,609.46h0.01M284.53,605.58h0.01M285.44,609.15h0.01M286.35,613.55h0.01M287.26,615.07h0.01M288.17,612.38h0.01M289.08,612.80h0.01M289.98,612.46h0.01M290.89,609.45h0.01M291.80,606.34h0.01M292.71,604.68h0.01M293.62,616.78h0.01M294.53,624.81h0.01M295.44,621.10h0.01M296.35,615.58h0.01M297.26,612.16h0.01M298.17,612.96h0.01M299.08,609.61h0.01M299.99,606.67h0.01M300.90,610.28h0.01M301.81,616.11h0.01M302.72,618.82h0.01M303.63,620.47h0.01M304.54,609.23h0.01M305.44,606.21h0.01M306.35,602.47h0.01M307.26,609.81h0.01M308.17,613.08h0.01M309.08,612.11h0.01M309.99,608.31h0.01M310.90,609.99h0.01M311.81,614.22h0.01M312.72,613.61h0.01M313.63,608.71h0.01M314.54,607.39h0.01M315.45,607.56h0.01M316.36,606.23h0.01M317.27,613.15h0.01M318.18,618.38h0.01M319.09,618.91h0.01M319.99,613.27h0.01M320.90,612.42h0.01" stroke="#f15289" stroke-width="1.7" stroke-linecap="round" fill="none"/>
<polyline points="54.45,619.63 55.36,618.61 56.27,617.63 57.18,616.71 58.09,615.84 59.00,615.05 59.91,614.34 60.82,613.72 61.73,613.20 62.63,612.78 63.54,612.43 64.45,612.11 65.36,611.80 66.27,611.53 67.18,611.28 68.09,611.06 69.00,610.87 69.91,610.72 70.82,610.61 71.73,610.54 72.64,610.47 73.55,610.40 74.46,610.34 75.37,610.29 76.28,610.25 77.19,610.21 78.09,610.18 79.00,610.17 79.91,610.16 80.82,610.17 81.73,610.21 82.64,610.27 83.55,610.35 84.46,610.44 85.37,610.55 86.28,610.66 87.19,610.79 88.10,610.92 89.01,611.06 89.92,611.24 90.83,611.50 91.74,611.81 92.64,612.16 93.55,612.53 94.46,612.89 95.37,613.23 96.28,613.53 97.19,613.77 98.10,613.95 99.01,614.12 99.92,614.29 100.83,614.45 101.74,614.59 102.65,614.72 103.56,614.83 104.47,614.92 105.38,614.97 106.29,614.99 107.20,614.97 108.10,614.92 109.01,614.84 109.92,614.74 110.83,614.61 111.74,614.47 112.65,614.31 113.56,614.14 114.47,613.97 115.38,613.79 116.29,613.54 117.20,613.21 118.11,612.82 119.02,612.41 119.93,611.98 120.84,611.57 121.75,611.19 122.66,610.87 123.56,610.63 124.47,610.46 125.38,610.31 126.29,610.18 127.20,610.06 128.11,609.96 129.02,609.86 129.93,609.76 130.84,609.68 131.75,609.59 132.66,609.51 133.57,609.42 134.48,609.33 135.39,609.24 136.30,609.15 137.21,609.06 138.11,608.99 139.02,608.93 139.93,608.88 140.84,608.86 141.75,608.86 142.66,608.89 143.57,608.95 144.48,609.03 145.39,609.14 146.30,609.27 147.21,609.41 148.12,609.56 149.03,609.72 149.94,609.88 150.85,610.06 151.76,610.29 152.67,610.56 153.57,610.86 154.48,611.18 155.39,611.52 156.30,611.87 157.21,612.21 158.12,612.53 159.03,612.84 159.94,613.16 160.85,613.50 161.76,613.85 162.67,614.19 163.58,614.53 164.49,614.85 165.40,615.14 166.31,615.39 167.22,615.58 168.12,615.73 169.03,615.85 169.94,615.96 170.85,616.06 171.76,616.16 172.67,616.24 173.58,616.32 174.49,616.39 175.40,616.47 176.31,616.54 177.22,616.63 178.13,616.71 179.04,616.80 179.95,616.89 180.86,616.97 181.77,617.04 182.68,617.11 183.58,617.16 184.49,617.19 185.40,617.20 186.31,617.19 187.22,617.15 188.13,617.10 189.04,617.03 189.95,616.95 190.86,616.86 191.77,616.77 192.68,616.67 193.59,616.57 194.50,616.47 195.41,616.38 196.32,616.29 197.23,616.20 198.14,616.11 199.04,616.02 199.95,615.92 200.86,615.82 201.77,615.72 202.68,615.61 203.59,615.50 204.50,615.39 205.41,615.27 206.32,615.15 207.23,615.03 208.14,614.89 209.05,614.74 209.96,614.57 210.87,614.39 211.78,614.20 212.69,614.02 213.60,613.84 214.50,613.68 215.41,613.55 216.32,613.44 217.23,613.34 218.14,613.24 219.05,613.15 219.96,613.06 220.87,612.98 221.78,612.91 222.69,612.85 223.60,612.81 224.51,612.78 225.42,612.78 226.33,612.78 227.24,612.78 228.15,612.78 229.05,612.78 229.96,612.78 230.87,612.78 231.78,612.78 232.69,612.78 233.60,612.78 234.51,612.79 235.42,612.81 236.33,612.85 237.24,612.91 238.15,612.98 239.06,613.06 239.97,613.15 240.88,613.25 241.79,613.35 242.70,613.46 243.61,613.60 244.51,613.79 245.42,614.01 246.33,614.27 247.24,614.53 248.15,614.80 249.06,615.07 249.97,615.32 250.88,615.55 251.79,615.74 252.70,615.95 253.61,616.16 254.52,616.38 255.43,616.59 256.34,616.78 257.25,616.95 258.16,617.08 259.06,617.16 259.97,617.20 260.88,617.20 261.79,617.20 262.70,617.20 263.61,617.20 264.52,617.20 265.43,617.20 266.34,617.20 267.25,617.20 268.16,617.20 269.07,617.20 269.98,617.13 270.89,616.98 271.80,616.78 272.71,616.52 273.62,616.24 274.52,615.94 275.43,615.64 276.34,615.35 277.25,615.09 278.16,614.85 279.07,614.61 279.98,614.35 280.89,614.10 281.80,613.84 282.71,613.59 283.62,613.36 284.53,613.14 285.44,612.95 286.35,612.78 287.26,612.63 288.17,612.47 289.08,612.32 289.98,612.18 290.89,612.04 291.80,611.93 292.71,611.83 293.62,611.76 294.53,611.72 295.44,611.72 296.35,611.73 297.26,611.76 298.17,611.79 299.08,611.84 299.99,611.89 300.90,611.94 301.81,612.00 302.72,612.06 303.63,612.11 304.54,612.17 305.44,612.24 306.35,612.32 307.26,612.42 308.17,612.51 309.08,612.59 309.99,612.67 310.90,612.73 311.81,612.77 312.72,612.78 313.63,612.75 314.54,612.69 315.45,612.59 316.36,612.45 317.27,612.28 318.18,612.09 319.09,611.87 319.99,611.62 320.90,611.36" fill="none" stroke="#f15289" stroke-width="3.0" stroke-linejoin="round"/>
<path d="M54.45,619.63h0.01M57.18,616.71h0.01M59.91,614.34h0.01M62.63,612.78h0.01M65.36,611.80h0.01M68.09,611.06h0.01M70.82,610.61h0.01M73.55,610.40h0.01M76.28,610.25h0.01M79.00,610.17h0.01M81.73,610.21h0.01M84.46,610.44h0.01M87.19,610.79h0.01M89.92,611.24h0.01M92.64,612.16h0.01M95.37,613.23h0.01M98.10,613.95h0.01M100.83,614.45h0.01M103.56,614.83h0.01M106.29,614.99h0.01M109.01,614.84h0.01M111.74,614.47h0.01M114.47,613.97h0.01M117.20,613.21h0.01M119.93,611.98h0.01M122.66,610.87h0.01M125.38,610.31h0.01M128.11,609.96h0.01M130.84,609.68h0.01M133.57,609.42h0.01M136.30,609.15h0.01M139.02,608.93h0.01M141.75,608.86h0.01M144.48,609.03h0.01M147.21,609.41h0.01M149.94,609.88h0.01M152.67,610.56h0.01M155.39,611.52h0.01M158.12,612.53h0.01M160.85,613.50h0.01M163.58,614.53h0.01M166.31,615.39h0.01M169.03,615.85h0.01M171.76,616.16h0.01M174.49,616.39h0.01M177.22,616.63h0.01M179.95,616.89h0.01M182.68,617.11h0.01M185.40,617.20h0.01M188.13,617.10h0.01M190.86,616.86h0.01M193.59,616.57h0.01M196.32,616.29h0.01M199.04,616.02h0.01M201.77,615.72h0.01M204.50,615.39h0.01M207.23,615.03h0.01M209.96,614.57h0.01M212.69,614.02h0.01M215.41,613.55h0.01M218.14,613.24h0.01M220.87,612.98h0.01M223.60,612.81h0.01M226.33,612.78h0.01M229.05,612.78h0.01M231.78,612.78h0.01M234.51,612.79h0.01M237.24,612.91h0.01M239.97,613.15h0.01M242.70,613.46h0.01M245.42,614.01h0.01M248.15,614.80h0.01M250.88,615.55h0.01M253.61,616.16h0.01M256.34,616.78h0.01M259.06,617.16h0.01M261.79,617.20h0.01M264.52,617.20h0.01M267.25,617.20h0.01M269.98,617.13h0.01M272.71,616.52h0.01M275.43,615.64h0.01M278.16,614.85h0.01M280.89,614.10h0.01M283.62,613.36h0.01M286.35,612.78h0.01M289.08,612.32h0.01M291.80,611.93h0.01M294.53,611.72h0.01M297.26,611.76h0.01M299.99,611.89h0.01M302.72,612.06h0.01M305.44,612.24h0.01M308.17,612.51h0.01M310.90,612.73h0.01M313.63,612.75h0.01M316.36,612.45h0.01M319.09,611.87h0.01" stroke="#f15289" stroke-width="3.6" stroke-linecap="round" fill="none"/>
<polyline points="405.47,484.65 406.38,478.36 407.29,473.82 408.20,468.19 409.11,451.96 410.02,467.70 410.93,473.19 411.84,474.08 412.75,492.83 413.66,486.11 414.57,459.09 415.48,453.87 416.39,448.44 417.30,481.72 418.21,478.31 419.11,487.03 420.02,486.19 420.93,483.78 421.84,484.97 422.75,471.06 423.66,453.10 424.57,481.09 425.48,482.28 426.39,461.30 427.30,451.79 428.21,441.41 429.12,465.43 430.03,475.62 430.94,463.75 431.84,452.75 432.75,436.75 433.66,458.57 434.57,489.56 435.48,487.04 436.39,490.45 437.30,485.77 438.21,475.28 439.12,459.94 440.03,482.83 440.94,491.34 441.85,505.66 442.76,457.38 443.67,444.83 444.57,455.22 445.48,451.90 446.39,477.67 447.30,454.32 448.21,449.58 449.12,458.76 450.03,441.50 450.94,452.06 451.85,480.40 452.76,465.49 453.67,455.80 454.58,465.77 455.49,468.07 456.40,480.00 457.31,465.30 458.21,447.74 459.12,465.21 460.03,460.44 460.94,465.11 461.85,457.29 462.76,455.66 463.67,437.89 464.58,447.53 465.49,440.06 466.40,450.11 467.31,481.46 468.22,487.03 469.13,472.53 470.04,483.40 470.94,468.90 471.85,459.00 472.76,458.45 473.67,477.72 474.58,469.49 475.49,465.94 476.40,455.84 477.31,435.46 478.22,458.52 479.13,460.95 480.04,446.34 480.95,437.94 481.86,421.54 482.77,445.40 483.67,458.34 484.58,449.62 485.49,440.27 486.40,463.29 487.31,477.72 488.22,465.76 489.13,463.60 490.04,454.46 490.95,472.70 491.86,485.79 492.77,482.89 493.68,471.61 494.59,491.35 495.50,491.77 496.40,478.87 497.31,481.88 498.22,477.58 499.13,492.83 500.04,484.10 500.95,480.75 501.86,459.52 502.77,449.52 503.68,441.41 504.59,453.53 505.50,454.57 506.41,455.01 507.32,450.72 508.23,479.85 509.14,487.03 510.04,484.39 510.95,461.91 511.86,453.25 512.77,435.51 513.68,446.32 514.59,459.48 515.50,474.13 516.41,470.35 517.32,469.84 518.23,451.96 519.14,459.56 520.05,482.84 520.96,462.83 521.87,483.50 522.77,466.23 523.68,482.97 524.59,493.97 525.50,457.65 526.41,458.91 527.32,442.55 528.23,438.87 529.14,453.57 530.05,463.38 530.96,464.48 531.87,469.15 532.78,445.51 533.69,452.27 534.60,444.83 535.50,455.96 536.41,465.80 537.32,471.68 538.23,436.01 539.14,432.69 540.05,419.16 540.96,434.13 541.87,455.04 542.78,437.14 543.69,416.88 544.60,434.29 545.51,450.61 546.42,462.43 547.33,476.25 548.24,463.25 549.14,434.51 550.05,451.08 550.96,443.78 551.87,444.61 552.78,442.31 553.69,472.03 554.60,474.20 555.51,471.01 556.42,476.60 557.33,446.08 558.24,449.02 559.15,449.86 560.06,448.73 560.97,439.03 561.87,447.55 562.78,454.41 563.69,474.94 564.60,479.16 565.51,488.17 566.42,472.42 567.33,456.20 568.24,451.79 569.15,459.09 570.06,457.76 570.97,444.04 571.88,453.77 572.79,453.95 573.70,447.23 574.60,431.07 575.51,433.06 576.42,430.86 577.33,445.06 578.24,462.33 579.15,438.19 580.06,434.63 580.97,441.98 581.88,436.75 582.79,440.70 583.70,449.47 584.61,462.51 585.52,457.11 586.43,440.14 587.33,456.82 588.24,436.97 589.15,433.23 590.06,432.59 590.97,426.98 591.88,428.34 592.79,470.56 593.70,479.22 594.61,449.81 595.52,460.91 596.43,446.69 597.34,440.27 598.25,483.69 599.16,487.81 600.07,492.83 600.97,475.57 601.88,465.65 602.79,458.73 603.70,473.57 604.61,482.18 605.52,467.17 606.43,477.36 607.34,483.47 608.25,453.05 609.16,448.21 610.07,441.41 610.98,456.51 611.89,475.46 612.80,476.24 613.70,472.96 614.61,459.61 615.52,455.70 616.43,442.55 617.34,445.96 618.25,437.65 619.16,474.91 620.07,462.89 620.98,479.30 621.89,492.83 622.80,461.72 623.71,440.27 624.62,447.48 625.53,459.69 626.43,467.62 627.34,470.29 628.25,472.96 629.16,472.08 630.07,490.44 630.98,491.63 631.89,495.56 632.80,493.20 633.71,482.68 634.62,482.28 635.53,476.19 636.44,488.91 637.35,484.78 638.26,453.45 639.17,451.53 640.07,440.27 640.98,454.82 641.89,465.09 642.80,452.61 643.71,447.30 644.62,458.44 645.53,490.84 646.44,490.54 647.35,505.66 648.26,476.71 649.17,487.03 650.08,483.77 650.99,472.40 651.90,466.48 652.80,449.58 653.71,448.11 654.62,464.55 655.53,447.59 656.44,437.89 657.35,463.77 658.26,464.88 659.17,465.03 660.08,465.74 660.99,477.14 661.90,461.46 662.81,450.09 663.72,447.30 664.63,444.61 665.53,444.80 666.44,430.64 667.35,458.19 668.26,468.76 669.17,481.41 670.08,448.57" fill="none" stroke="#2f85c0" stroke-width="1.45" stroke-dasharray="3.6,2.0" stroke-linejoin="round"/>
<path d="M405.47,484.65h0.01M406.38,478.36h0.01M407.29,473.82h0.01M408.20,468.19h0.01M409.11,451.96h0.01M410.02,467.70h0.01M410.93,473.19h0.01M411.84,474.08h0.01M412.75,492.83h0.01M413.66,486.11h0.01M414.57,459.09h0.01M415.48,453.87h0.01M416.39,448.44h0.01M417.30,481.72h0.01M418.21,478.31h0.01M419.11,487.03h0.01M420.02,486.19h0.01M420.93,483.78h0.01M421.84,484.97h0.01M422.75,471.06h0.01M423.66,453.10h0.01M424.57,481.09h0.01M425.48,482.28h0.01M426.39,461.30h0.01M427.30,451.79h0.01M428.21,441.41h0.01M429.12,465.43h0.01M430.03,475.62h0.01M430.94,463.75h0.01M431.84,452.75h0.01M432.75,436.75h0.01M433.66,458.57h0.01M434.57,489.56h0.01M435.48,487.04h0.01M436.39,490.45h0.01M437.30,485.77h0.01M438.21,475.28h0.01M439.12,459.94h0.01M440.03,482.83h0.01M440.94,491.34h0.01M441.85,505.66h0.01M442.76,457.38h0.01M443.67,444.83h0.01M444.57,455.22h0.01M445.48,451.90h0.01M446.39,477.67h0.01M447.30,454.32h0.01M448.21,449.58h0.01M449.12,458.76h0.01M450.03,441.50h0.01M450.94,452.06h0.01M451.85,480.40h0.01M452.76,465.49h0.01M453.67,455.80h0.01M454.58,465.77h0.01M455.49,468.07h0.01M456.40,480.00h0.01M457.31,465.30h0.01M458.21,447.74h0.01M459.12,465.21h0.01M460.03,460.44h0.01M460.94,465.11h0.01M461.85,457.29h0.01M462.76,455.66h0.01M463.67,437.89h0.01M464.58,447.53h0.01M465.49,440.06h0.01M466.40,450.11h0.01M467.31,481.46h0.01M468.22,487.03h0.01M469.13,472.53h0.01M470.04,483.40h0.01M470.94,468.90h0.01M471.85,459.00h0.01M472.76,458.45h0.01M473.67,477.72h0.01M474.58,469.49h0.01M475.49,465.94h0.01M476.40,455.84h0.01M477.31,435.46h0.01M478.22,458.52h0.01M479.13,460.95h0.01M480.04,446.34h0.01M480.95,437.94h0.01M481.86,421.54h0.01M482.77,445.40h0.01M483.67,458.34h0.01M484.58,449.62h0.01M485.49,440.27h0.01M486.40,463.29h0.01M487.31,477.72h0.01M488.22,465.76h0.01M489.13,463.60h0.01M490.04,454.46h0.01M490.95,472.70h0.01M491.86,485.79h0.01M492.77,482.89h0.01M493.68,471.61h0.01M494.59,491.35h0.01M495.50,491.77h0.01M496.40,478.87h0.01M497.31,481.88h0.01M498.22,477.58h0.01M499.13,492.83h0.01M500.04,484.10h0.01M500.95,480.75h0.01M501.86,459.52h0.01M502.77,449.52h0.01M503.68,441.41h0.01M504.59,453.53h0.01M505.50,454.57h0.01M506.41,455.01h0.01M507.32,450.72h0.01M508.23,479.85h0.01M509.14,487.03h0.01M510.04,484.39h0.01M510.95,461.91h0.01M511.86,453.25h0.01M512.77,435.51h0.01M513.68,446.32h0.01M514.59,459.48h0.01M515.50,474.13h0.01M516.41,470.35h0.01M517.32,469.84h0.01M518.23,451.96h0.01M519.14,459.56h0.01M520.05,482.84h0.01M520.96,462.83h0.01M521.87,483.50h0.01M522.77,466.23h0.01M523.68,482.97h0.01M524.59,493.97h0.01M525.50,457.65h0.01M526.41,458.91h0.01M527.32,442.55h0.01M528.23,438.87h0.01M529.14,453.57h0.01M530.05,463.38h0.01M530.96,464.48h0.01M531.87,469.15h0.01M532.78,445.51h0.01M533.69,452.27h0.01M534.60,444.83h0.01M535.50,455.96h0.01M536.41,465.80h0.01M537.32,471.68h0.01M538.23,436.01h0.01M539.14,432.69h0.01M540.05,419.16h0.01M540.96,434.13h0.01M541.87,455.04h0.01M542.78,437.14h0.01M543.69,416.88h0.01M544.60,434.29h0.01M545.51,450.61h0.01M546.42,462.43h0.01M547.33,476.25h0.01M548.24,463.25h0.01M549.14,434.51h0.01M550.05,451.08h0.01M550.96,443.78h0.01M551.87,444.61h0.01M552.78,442.31h0.01M553.69,472.03h0.01M554.60,474.20h0.01M555.51,471.01h0.01M556.42,476.60h0.01M557.33,446.08h0.01M558.24,449.02h0.01M559.15,449.86h0.01M560.06,448.73h0.01M560.97,439.03h0.01M561.87,447.55h0.01M562.78,454.41h0.01M563.69,474.94h0.01M564.60,479.16h0.01M565.51,488.17h0.01M566.42,472.42h0.01M567.33,456.20h0.01M568.24,451.79h0.01M569.15,459.09h0.01M570.06,457.76h0.01M570.97,444.04h0.01M571.88,453.77h0.01M572.79,453.95h0.01M573.70,447.23h0.01M574.60,431.07h0.01M575.51,433.06h0.01M576.42,430.86h0.01M577.33,445.06h0.01M578.24,462.33h0.01M579.15,438.19h0.01M580.06,434.63h0.01M580.97,441.98h0.01M581.88,436.75h0.01M582.79,440.70h0.01M583.70,449.47h0.01M584.61,462.51h0.01M585.52,457.11h0.01M586.43,440.14h0.01M587.33,456.82h0.01M588.24,436.97h0.01M589.15,433.23h0.01M590.06,432.59h0.01M590.97,426.98h0.01M591.88,428.34h0.01M592.79,470.56h0.01M593.70,479.22h0.01M594.61,449.81h0.01M595.52,460.91h0.01M596.43,446.69h0.01M597.34,440.27h0.01M598.25,483.69h0.01M599.16,487.81h0.01M600.07,492.83h0.01M600.97,475.57h0.01M601.88,465.65h0.01M602.79,458.73h0.01M603.70,473.57h0.01M604.61,482.18h0.01M605.52,467.17h0.01M606.43,477.36h0.01M607.34,483.47h0.01M608.25,453.05h0.01M609.16,448.21h0.01M610.07,441.41h0.01M610.98,456.51h0.01M611.89,475.46h0.01M612.80,476.24h0.01M613.70,472.96h0.01M614.61,459.61h0.01M615.52,455.70h0.01M616.43,442.55h0.01M617.34,445.96h0.01M618.25,437.65h0.01M619.16,474.91h0.01M620.07,462.89h0.01M620.98,479.30h0.01M621.89,492.83h0.01M622.80,461.72h0.01M623.71,440.27h0.01M624.62,447.48h0.01M625.53,459.69h0.01M626.43,467.62h0.01M627.34,470.29h0.01M628.25,472.96h0.01M629.16,472.08h0.01M630.07,490.44h0.01M630.98,491.63h0.01M631.89,495.56h0.01M632.80,493.20h0.01M633.71,482.68h0.01M634.62,482.28h0.01M635.53,476.19h0.01M636.44,488.91h0.01M637.35,484.78h0.01M638.26,453.45h0.01M639.17,451.53h0.01M640.07,440.27h0.01M640.98,454.82h0.01M641.89,465.09h0.01M642.80,452.61h0.01M643.71,447.30h0.01M644.62,458.44h0.01M645.53,490.84h0.01M646.44,490.54h0.01M647.35,505.66h0.01M648.26,476.71h0.01M649.17,487.03h0.01M650.08,483.77h0.01M650.99,472.40h0.01M651.90,466.48h0.01M652.80,449.58h0.01M653.71,448.11h0.01M654.62,464.55h0.01M655.53,447.59h0.01M656.44,437.89h0.01M657.35,463.77h0.01M658.26,464.88h0.01M659.17,465.03h0.01M660.08,465.74h0.01M660.99,477.14h0.01M661.90,461.46h0.01M662.81,450.09h0.01M663.72,447.30h0.01M664.63,444.61h0.01M665.53,444.80h0.01M666.44,430.64h0.01M667.35,458.19h0.01M668.26,468.76h0.01M669.17,481.41h0.01M670.08,448.57h0.01" stroke="#2f85c0" stroke-width="1.7" stroke-linecap="round" fill="none"/>
<polyline points="405.47,475.15 406.38,474.22 407.29,473.34 408.20,472.49 409.11,471.70 410.02,470.96 410.93,470.29 411.84,469.69 412.75,469.16 413.66,468.67 414.57,468.18 415.48,467.70 416.39,467.24 417.30,466.82 418.21,466.46 419.11,466.17 420.02,465.96 420.93,465.85 421.84,465.84 422.75,465.92 423.66,466.06 424.57,466.25 425.48,466.49 426.39,466.77 427.30,467.07 428.21,467.38 429.12,467.70 430.03,468.02 430.94,468.42 431.84,468.96 432.75,469.57 433.66,470.18 434.57,470.72 435.48,471.13 436.39,471.33 437.30,471.33 438.21,471.25 439.12,471.11 440.03,470.92 440.94,470.69 441.85,470.42 442.76,470.12 443.67,469.81 444.57,469.49 445.48,469.16 446.39,468.79 447.30,468.32 448.21,467.79 449.12,467.20 450.03,466.57 450.94,465.92 451.85,465.26 452.76,464.62 453.67,464.00 454.58,463.42 455.49,462.83 456.40,462.22 457.31,461.61 458.21,461.00 459.12,460.41 460.03,459.83 460.94,459.28 461.85,458.78 462.76,458.32 463.67,457.88 464.58,457.43 465.49,456.97 466.40,456.53 467.31,456.13 468.22,455.80 469.13,455.55 470.04,455.40 470.94,455.38 471.85,455.40 472.76,455.45 473.67,455.51 474.58,455.60 475.49,455.69 476.40,455.80 477.31,455.92 478.22,456.04 479.13,456.20 480.04,456.42 480.95,456.69 481.86,457.01 482.77,457.36 483.67,457.74 484.58,458.14 485.49,458.56 486.40,458.98 487.31,459.41 488.22,459.91 489.13,460.50 490.04,461.14 490.95,461.81 491.86,462.49 492.77,463.14 493.68,463.74 494.59,464.26 495.50,464.69 496.40,465.02 497.31,465.34 498.22,465.66 499.13,465.96 500.04,466.24 500.95,466.48 501.86,466.68 502.77,466.84 503.68,466.94 504.59,466.98 505.50,466.96 506.41,466.91 507.32,466.82 508.23,466.72 509.14,466.59 510.04,466.44 510.95,466.28 511.86,466.11 512.77,465.94 513.68,465.76 514.59,465.54 515.50,465.27 516.41,464.96 517.32,464.62 518.23,464.25 519.14,463.87 520.05,463.47 520.96,463.07 521.87,462.68 522.77,462.28 523.68,461.86 524.59,461.42 525.50,460.96 526.41,460.50 527.32,460.02 528.23,459.54 529.14,459.07 530.05,458.60 530.96,458.14 531.87,457.66 532.78,457.16 533.69,456.65 534.60,456.13 535.50,455.63 536.41,455.16 537.32,454.72 538.23,454.33 539.14,454.00 540.05,453.73 540.96,453.49 541.87,453.27 542.78,453.07 543.69,452.88 544.60,452.70 545.51,452.55 546.42,452.40 547.33,452.27 548.24,452.15 549.14,452.04 550.05,451.94 550.96,451.84 551.87,451.76 552.78,451.68 553.69,451.60 554.60,451.53 555.51,451.46 556.42,451.39 557.33,451.32 558.24,451.24 559.15,451.16 560.06,451.09 560.97,451.02 561.87,450.95 562.78,450.90 563.69,450.85 564.60,450.83 565.51,450.82 566.42,450.82 567.33,450.82 568.24,450.82 569.15,450.82 570.06,450.82 570.97,450.82 571.88,450.82 572.79,450.82 573.70,450.82 574.60,450.82 575.51,450.82 576.42,450.84 577.33,450.87 578.24,450.91 579.15,450.96 580.06,451.02 580.97,451.08 581.88,451.15 582.79,451.22 583.70,451.29 584.61,451.38 585.52,451.49 586.43,451.62 587.33,451.77 588.24,451.94 589.15,452.12 590.06,452.31 590.97,452.51 591.88,452.71 592.79,452.91 593.70,453.11 594.61,453.33 595.52,453.56 596.43,453.80 597.34,454.05 598.25,454.32 599.16,454.59 600.07,454.87 600.97,455.17 601.88,455.47 602.79,455.79 603.70,456.11 604.61,456.44 605.52,456.79 606.43,457.18 607.34,457.59 608.25,458.04 609.16,458.51 610.07,459.00 610.98,459.49 611.89,460.00 612.80,460.49 613.70,460.98 614.61,461.46 615.52,461.92 616.43,462.34 617.34,462.75 618.25,463.13 619.16,463.51 620.07,463.87 620.98,464.23 621.89,464.58 622.80,464.92 623.71,465.26 624.62,465.61 625.53,465.95 626.43,466.29 627.34,466.64 628.25,467.00 629.16,467.36 630.07,467.73 630.98,468.10 631.89,468.47 632.80,468.84 633.71,469.21 634.62,469.58 635.53,469.95 636.44,470.32 637.35,470.68 638.26,471.04 639.17,471.39 640.07,471.73 640.98,472.10 641.89,472.50 642.80,472.93 643.71,473.33 644.62,473.69 645.53,473.97 646.44,474.15 647.35,474.20 648.26,474.12 649.17,473.94 650.08,473.68 650.99,473.34 651.90,472.94 652.80,472.48 653.71,471.99 654.62,471.43 655.53,470.63 656.44,469.59 657.35,468.31 658.26,466.84 659.17,465.18 660.08,463.36 660.99,460.56 661.90,457.01 662.81,453.78 663.72,451.65 664.63,450.04 665.53,450.02 666.44,451.55 667.35,453.57 668.26,455.43 669.17,458.20 670.08,466.08" fill="none" stroke="#2f85c0" stroke-width="3.0" stroke-linejoin="round"/>
<path d="M405.47,475.15h0.01M408.20,472.49h0.01M410.93,470.29h0.01M413.66,468.67h0.01M416.39,467.24h0.01M419.11,466.17h0.01M421.84,465.84h0.01M424.57,466.25h0.01M427.30,467.07h0.01M430.03,468.02h0.01M432.75,469.57h0.01M435.48,471.13h0.01M438.21,471.25h0.01M440.94,470.69h0.01M443.67,469.81h0.01M446.39,468.79h0.01M449.12,467.20h0.01M451.85,465.26h0.01M454.58,463.42h0.01M457.31,461.61h0.01M460.03,459.83h0.01M462.76,458.32h0.01M465.49,456.97h0.01M468.22,455.80h0.01M470.94,455.38h0.01M473.67,455.51h0.01M476.40,455.80h0.01M479.13,456.20h0.01M481.86,457.01h0.01M484.58,458.14h0.01M487.31,459.41h0.01M490.04,461.14h0.01M492.77,463.14h0.01M495.50,464.69h0.01M498.22,465.66h0.01M500.95,466.48h0.01M503.68,466.94h0.01M506.41,466.91h0.01M509.14,466.59h0.01M511.86,466.11h0.01M514.59,465.54h0.01M517.32,464.62h0.01M520.05,463.47h0.01M522.77,462.28h0.01M525.50,460.96h0.01M528.23,459.54h0.01M530.96,458.14h0.01M533.69,456.65h0.01M536.41,455.16h0.01M539.14,454.00h0.01M541.87,453.27h0.01M544.60,452.70h0.01M547.33,452.27h0.01M550.05,451.94h0.01M552.78,451.68h0.01M555.51,451.46h0.01M558.24,451.24h0.01M560.97,451.02h0.01M563.69,450.85h0.01M566.42,450.82h0.01M569.15,450.82h0.01M571.88,450.82h0.01M574.60,450.82h0.01M577.33,450.87h0.01M580.06,451.02h0.01M582.79,451.22h0.01M585.52,451.49h0.01M588.24,451.94h0.01M590.97,452.51h0.01M593.70,453.11h0.01M596.43,453.80h0.01M599.16,454.59h0.01M601.88,455.47h0.01M604.61,456.44h0.01M607.34,457.59h0.01M610.07,459.00h0.01M612.80,460.49h0.01M615.52,461.92h0.01M618.25,463.13h0.01M620.98,464.23h0.01M623.71,465.26h0.01M626.43,466.29h0.01M629.16,467.36h0.01M631.89,468.47h0.01M634.62,469.58h0.01M637.35,470.68h0.01M640.07,471.73h0.01M642.80,472.93h0.01M645.53,473.97h0.01M648.26,474.12h0.01M650.99,473.34h0.01M653.71,471.99h0.01M656.44,469.59h0.01M659.17,465.18h0.01M661.90,457.01h0.01M664.63,450.04h0.01M667.35,453.57h0.01M670.08,466.08h0.01" stroke="#2f85c0" stroke-width="3.6" stroke-linecap="round" fill="none"/>
<polyline points="405.47,484.65 406.38,501.62 407.29,513.72 408.20,515.49 409.11,529.68 410.02,521.14 410.93,529.81 411.84,539.59 412.75,517.55 413.66,496.99 414.57,495.41 415.48,503.31 416.39,494.90 417.30,496.35 418.21,502.67 419.11,500.39 420.02,501.97 420.93,490.42 421.84,509.61 422.75,499.97 423.66,490.45 424.57,497.43 425.48,518.40 426.39,505.61 427.30,511.96 428.21,522.68 429.12,533.70 430.03,499.77 430.94,492.83 431.84,493.04 432.75,514.46 433.66,534.10 434.57,510.76 435.48,491.73 436.39,501.26 437.30,496.35 438.21,492.86 439.12,520.11 440.03,542.22 440.94,542.83 441.85,550.14 442.76,539.88 443.67,544.03 444.57,543.28 445.48,542.59 446.39,559.46 447.30,501.66 448.21,496.48 449.12,488.17 450.03,505.80 450.94,525.20 451.85,524.56 452.76,528.95 453.67,512.17 454.58,496.35 455.49,522.81 456.40,533.70 457.31,513.96 458.21,506.08 459.12,505.99 460.03,491.33 460.94,470.59 461.85,508.86 462.76,523.86 463.67,536.08 464.58,525.13 465.49,521.09 466.40,514.62 467.31,507.56 468.22,517.45 469.13,531.42 470.04,521.65 470.94,505.32 471.85,482.38 472.76,495.56 473.67,490.45 474.58,486.37 475.49,494.12 476.40,522.08 477.31,534.49 478.22,540.73 479.13,517.22 480.04,487.95 480.95,494.34 481.86,488.17 482.77,489.95 483.67,501.41 484.58,515.15 485.49,503.79 486.40,511.05 487.31,510.73 488.22,511.15 489.13,496.35 490.04,527.35 490.95,541.87 491.86,526.80 492.77,506.39 493.68,523.00 494.59,531.42 495.50,511.73 496.40,496.11 497.31,489.31 498.22,503.77 499.13,512.64 500.04,512.46 500.95,517.02 501.86,522.81 502.77,489.95 503.68,516.11 504.59,537.33 505.50,539.59 506.41,528.53 507.32,510.11 508.23,516.59 509.14,505.66 510.04,518.73 510.95,523.92 511.86,502.94 512.77,492.33 513.68,521.63 514.59,536.26 515.50,551.28 516.41,540.39 517.32,512.11 518.23,502.78 519.14,496.35 520.05,503.07 520.96,513.85 521.87,513.11 522.77,517.48 523.68,491.58 524.59,475.24 525.50,500.80 526.41,528.10 527.32,530.66 528.23,543.11 529.14,530.71 530.05,512.55 530.96,499.48 531.87,502.19 532.78,489.31 533.69,496.92 534.60,510.66 535.50,543.27 536.41,537.08 537.32,535.02 538.23,546.63 539.14,506.07 540.05,483.51 540.96,497.57 541.87,516.04 542.78,523.76 543.69,536.08 544.60,527.52 545.51,518.99 546.42,493.44 547.33,524.84 548.24,513.18 549.14,523.42 550.05,503.06 550.96,497.49 551.87,502.10 552.78,513.67 553.69,487.90 554.60,521.83 555.51,533.18 556.42,545.39 557.33,537.75 558.24,508.46 559.15,490.18 560.06,498.90 560.97,498.72 561.87,505.21 562.78,519.60 563.69,545.71 564.60,548.91 565.51,534.78 566.42,541.20 567.33,515.56 568.24,512.74 569.15,507.16 570.06,499.86 570.97,502.99 571.88,509.18 572.79,529.26 573.70,521.93 574.60,515.96 575.51,508.69 576.42,499.86 577.33,501.71 578.24,495.98 579.15,492.59 580.06,505.43 580.97,528.78 581.88,554.80 582.79,544.70 583.70,533.22 584.61,517.16 585.52,520.94 586.43,506.83 587.33,501.40 588.24,523.47 589.15,515.17 590.06,532.24 590.97,548.13 591.88,548.46 592.79,540.91 593.70,552.73 594.61,523.20 595.52,511.08 596.43,546.00 597.34,550.19 598.25,564.12 599.16,544.77 600.07,523.17 600.97,536.88 601.88,503.38 602.79,559.46 603.70,555.97 604.61,558.71 605.52,546.48 606.43,513.18 607.34,498.72 608.25,504.28 609.16,518.48 610.07,544.87 610.98,531.40 611.89,535.23 612.80,551.28 613.70,542.94 614.61,519.21 615.52,548.19 616.43,542.63 617.34,514.27 618.25,519.13 619.16,522.32 620.07,505.66 620.98,510.76 621.89,502.63 622.80,505.09 623.71,518.70 624.62,533.25 625.53,562.98 626.43,507.51 627.34,496.35 628.25,509.67 629.16,514.92 630.07,510.44 630.98,495.70 631.89,518.06 632.80,513.92 633.71,506.39 634.62,484.65 635.53,491.58 636.44,497.91 637.35,517.89 638.26,506.77 639.17,505.73 640.07,493.97 640.98,518.85 641.89,529.14 642.80,520.14 643.71,512.93 644.62,514.73 645.53,505.56 646.44,493.97 647.35,501.26 648.26,500.38 649.17,519.12 650.08,505.42 650.99,519.03 651.90,509.78 652.80,519.70 653.71,523.30 654.62,527.90 655.53,514.51 656.44,508.28 657.35,499.67 658.26,522.13 659.17,530.86 660.08,544.25 660.99,540.60 661.90,527.56 662.81,508.80 663.72,501.00 664.63,510.67 665.53,515.78 666.44,521.78 667.35,537.22 668.26,532.55 669.17,515.25 670.08,536.09 670.99,534.94" fill="none" stroke="#f15289" stroke-width="1.45" stroke-dasharray="3.6,2.0" stroke-linejoin="round"/>
<path d="M405.47,484.65h0.01M406.38,501.62h0.01M407.29,513.72h0.01M408.20,515.49h0.01M409.11,529.68h0.01M410.02,521.14h0.01M410.93,529.81h0.01M411.84,539.59h0.01M412.75,517.55h0.01M413.66,496.99h0.01M414.57,495.41h0.01M415.48,503.31h0.01M416.39,494.90h0.01M417.30,496.35h0.01M418.21,502.67h0.01M419.11,500.39h0.01M420.02,501.97h0.01M420.93,490.42h0.01M421.84,509.61h0.01M422.75,499.97h0.01M423.66,490.45h0.01M424.57,497.43h0.01M425.48,518.40h0.01M426.39,505.61h0.01M427.30,511.96h0.01M428.21,522.68h0.01M429.12,533.70h0.01M430.03,499.77h0.01M430.94,492.83h0.01M431.84,493.04h0.01M432.75,514.46h0.01M433.66,534.10h0.01M434.57,510.76h0.01M435.48,491.73h0.01M436.39,501.26h0.01M437.30,496.35h0.01M438.21,492.86h0.01M439.12,520.11h0.01M440.03,542.22h0.01M440.94,542.83h0.01M441.85,550.14h0.01M442.76,539.88h0.01M443.67,544.03h0.01M444.57,543.28h0.01M445.48,542.59h0.01M446.39,559.46h0.01M447.30,501.66h0.01M448.21,496.48h0.01M449.12,488.17h0.01M450.03,505.80h0.01M450.94,525.20h0.01M451.85,524.56h0.01M452.76,528.95h0.01M453.67,512.17h0.01M454.58,496.35h0.01M455.49,522.81h0.01M456.40,533.70h0.01M457.31,513.96h0.01M458.21,506.08h0.01M459.12,505.99h0.01M460.03,491.33h0.01M460.94,470.59h0.01M461.85,508.86h0.01M462.76,523.86h0.01M463.67,536.08h0.01M464.58,525.13h0.01M465.49,521.09h0.01M466.40,514.62h0.01M467.31,507.56h0.01M468.22,517.45h0.01M469.13,531.42h0.01M470.04,521.65h0.01M470.94,505.32h0.01M471.85,482.38h0.01M472.76,495.56h0.01M473.67,490.45h0.01M474.58,486.37h0.01M475.49,494.12h0.01M476.40,522.08h0.01M477.31,534.49h0.01M478.22,540.73h0.01M479.13,517.22h0.01M480.04,487.95h0.01M480.95,494.34h0.01M481.86,488.17h0.01M482.77,489.95h0.01M483.67,501.41h0.01M484.58,515.15h0.01M485.49,503.79h0.01M486.40,511.05h0.01M487.31,510.73h0.01M488.22,511.15h0.01M489.13,496.35h0.01M490.04,527.35h0.01M490.95,541.87h0.01M491.86,526.80h0.01M492.77,506.39h0.01M493.68,523.00h0.01M494.59,531.42h0.01M495.50,511.73h0.01M496.40,496.11h0.01M497.31,489.31h0.01M498.22,503.77h0.01M499.13,512.64h0.01M500.04,512.46h0.01M500.95,517.02h0.01M501.86,522.81h0.01M502.77,489.95h0.01M503.68,516.11h0.01M504.59,537.33h0.01M505.50,539.59h0.01M506.41,528.53h0.01M507.32,510.11h0.01M508.23,516.59h0.01M509.14,505.66h0.01M510.04,518.73h0.01M510.95,523.92h0.01M511.86,502.94h0.01M512.77,492.33h0.01M513.68,521.63h0.01M514.59,536.26h0.01M515.50,551.28h0.01M516.41,540.39h0.01M517.32,512.11h0.01M518.23,502.78h0.01M519.14,496.35h0.01M520.05,503.07h0.01M520.96,513.85h0.01M521.87,513.11h0.01M522.77,517.48h0.01M523.68,491.58h0.01M524.59,475.24h0.01M525.50,500.80h0.01M526.41,528.10h0.01M527.32,530.66h0.01M528.23,543.11h0.01M529.14,530.71h0.01M530.05,512.55h0.01M530.96,499.48h0.01M531.87,502.19h0.01M532.78,489.31h0.01M533.69,496.92h0.01M534.60,510.66h0.01M535.50,543.27h0.01M536.41,537.08h0.01M537.32,535.02h0.01M538.23,546.63h0.01M539.14,506.07h0.01M540.05,483.51h0.01M540.96,497.57h0.01M541.87,516.04h0.01M542.78,523.76h0.01M543.69,536.08h0.01M544.60,527.52h0.01M545.51,518.99h0.01M546.42,493.44h0.01M547.33,524.84h0.01M548.24,513.18h0.01M549.14,523.42h0.01M550.05,503.06h0.01M550.96,497.49h0.01M551.87,502.10h0.01M552.78,513.67h0.01M553.69,487.90h0.01M554.60,521.83h0.01M555.51,533.18h0.01M556.42,545.39h0.01M557.33,537.75h0.01M558.24,508.46h0.01M559.15,490.18h0.01M560.06,498.90h0.01M560.97,498.72h0.01M561.87,505.21h0.01M562.78,519.60h0.01M563.69,545.71h0.01M564.60,548.91h0.01M565.51,534.78h0.01M566.42,541.20h0.01M567.33,515.56h0.01M568.24,512.74h0.01M569.15,507.16h0.01M570.06,499.86h0.01M570.97,502.99h0.01M571.88,509.18h0.01M572.79,529.26h0.01M573.70,521.93h0.01M574.60,515.96h0.01M575.51,508.69h0.01M576.42,499.86h0.01M577.33,501.71h0.01M578.24,495.98h0.01M579.15,492.59h0.01M580.06,505.43h0.01M580.97,528.78h0.01M581.88,554.80h0.01M582.79,544.70h0.01M583.70,533.22h0.01M584.61,517.16h0.01M585.52,520.94h0.01M586.43,506.83h0.01M587.33,501.40h0.01M588.24,523.47h0.01M589.15,515.17h0.01M590.06,532.24h0.01M590.97,548.13h0.01M591.88,548.46h0.01M592.79,540.91h0.01M593.70,552.73h0.01M594.61,523.20h0.01M595.52,511.08h0.01M596.43,546.00h0.01M597.34,550.19h0.01M598.25,564.12h0.01M599.16,544.77h0.01M600.07,523.17h0.01M600.97,536.88h0.01M601.88,503.38h0.01M602.79,559.46h0.01M603.70,555.97h0.01M604.61,558.71h0.01M605.52,546.48h0.01M606.43,513.18h0.01M607.34,498.72h0.01M608.25,504.28h0.01M609.16,518.48h0.01M610.07,544.87h0.01M610.98,531.40h0.01M611.89,535.23h0.01M612.80,551.28h0.01M613.70,542.94h0.01M614.61,519.21h0.01M615.52,548.19h0.01M616.43,542.63h0.01M617.34,514.27h0.01M618.25,519.13h0.01M619.16,522.32h0.01M620.07,505.66h0.01M620.98,510.76h0.01M621.89,502.63h0.01M622.80,505.09h0.01M623.71,518.70h0.01M624.62,533.25h0.01M625.53,562.98h0.01M626.43,507.51h0.01M627.34,496.35h0.01M628.25,509.67h0.01M629.16,514.92h0.01M630.07,510.44h0.01M630.98,495.70h0.01M631.89,518.06h0.01M632.80,513.92h0.01M633.71,506.39h0.01M634.62,484.65h0.01M635.53,491.58h0.01M636.44,497.91h0.01M637.35,517.89h0.01M638.26,506.77h0.01M639.17,505.73h0.01M640.07,493.97h0.01M640.98,518.85h0.01M641.89,529.14h0.01M642.80,520.14h0.01M643.71,512.93h0.01M644.62,514.73h0.01M645.53,505.56h0.01M646.44,493.97h0.01M647.35,501.26h0.01M648.26,500.38h0.01M649.17,519.12h0.01M650.08,505.42h0.01M650.99,519.03h0.01M651.90,509.78h0.01M652.80,519.70h0.01M653.71,523.30h0.01M654.62,527.90h0.01M655.53,514.51h0.01M656.44,508.28h0.01M657.35,499.67h0.01M658.26,522.13h0.01M659.17,530.86h0.01M660.08,544.25h0.01M660.99,540.60h0.01M661.90,527.56h0.01M662.81,508.80h0.01M663.72,501.00h0.01M664.63,510.67h0.01M665.53,515.78h0.01M666.44,521.78h0.01M667.35,537.22h0.01M668.26,532.55h0.01M669.17,515.25h0.01M670.08,536.09h0.01M670.99,534.94h0.01" stroke="#f15289" stroke-width="1.7" stroke-linecap="round" fill="none"/>
<polyline points="405.47,493.64 406.38,496.02 407.29,498.31 408.20,500.50 409.11,502.59 410.02,504.82 410.93,507.24 411.84,509.09 412.75,509.65 413.66,509.53 414.57,509.29 415.48,508.95 416.39,508.55 417.30,508.15 418.21,507.77 419.11,507.47 420.02,507.19 420.93,506.90 421.84,506.60 422.75,506.30 423.66,506.02 424.57,505.76 425.48,505.55 426.39,505.39 427.30,505.30 428.21,505.29 429.12,505.38 430.03,505.57 430.94,505.84 431.84,506.19 432.75,506.58 433.66,507.02 434.57,507.47 435.48,508.07 436.39,508.92 437.30,509.93 438.21,511.03 439.12,512.13 440.03,513.15 440.94,514.02 441.85,514.83 442.76,515.68 443.67,516.54 444.57,517.37 445.48,518.12 446.39,518.75 447.30,519.22 448.21,519.49 449.12,519.53 450.03,519.45 450.94,519.29 451.85,519.06 452.76,518.78 453.67,518.45 454.58,518.10 455.49,517.73 456.40,517.35 457.31,516.91 458.21,516.35 459.12,515.70 460.03,514.98 460.94,514.22 461.85,513.43 462.76,512.65 463.67,511.89 464.58,511.18 465.49,510.54 466.40,509.87 467.31,509.17 468.22,508.46 469.13,507.77 470.04,507.12 470.94,506.52 471.85,506.01 472.76,505.60 473.67,505.32 474.58,505.14 475.49,504.97 476.40,504.82 477.31,504.67 478.22,504.55 479.13,504.44 480.04,504.35 480.95,504.29 481.86,504.25 482.77,504.23 483.67,504.29 484.58,504.46 485.49,504.72 486.40,505.05 487.31,505.44 488.22,505.87 489.13,506.33 490.04,506.79 490.95,507.25 491.86,507.69 492.77,508.21 493.68,508.79 494.59,509.42 495.50,510.07 496.40,510.73 497.31,511.37 498.22,511.97 499.13,512.52 500.04,512.98 500.95,513.39 501.86,513.79 502.77,514.18 503.68,514.55 504.59,514.90 505.50,515.22 506.41,515.52 507.32,515.78 508.23,516.02 509.14,516.21 510.04,516.39 510.95,516.56 511.86,516.73 512.77,516.89 513.68,517.03 514.59,517.15 515.50,517.25 516.41,517.31 517.32,517.35 518.23,517.35 519.14,517.34 520.05,517.32 520.96,517.30 521.87,517.27 522.77,517.23 523.68,517.20 524.59,517.15 525.50,517.11 526.41,517.07 527.32,517.01 528.23,516.93 529.14,516.84 530.05,516.74 530.96,516.63 531.87,516.53 532.78,516.42 533.69,516.33 534.60,516.25 535.50,516.18 536.41,516.12 537.32,516.07 538.23,516.02 539.14,515.98 540.05,515.94 540.96,515.89 541.87,515.85 542.78,515.80 543.69,515.74 544.60,515.68 545.51,515.61 546.42,515.54 547.33,515.47 548.24,515.40 549.14,515.32 550.05,515.25 550.96,515.18 551.87,515.11 552.78,515.05 553.69,514.99 554.60,514.93 555.51,514.86 556.42,514.80 557.33,514.74 558.24,514.68 559.15,514.64 560.06,514.61 560.97,514.60 561.87,514.60 562.78,514.64 563.69,514.71 564.60,514.80 565.51,514.92 566.42,515.06 567.33,515.21 568.24,515.38 569.15,515.55 570.06,515.74 570.97,515.95 571.88,516.23 572.79,516.57 573.70,516.95 574.60,517.37 575.51,517.81 576.42,518.27 577.33,518.74 578.24,519.21 579.15,519.68 580.06,520.17 580.97,520.70 581.88,521.26 582.79,521.84 583.70,522.43 584.61,523.02 585.52,523.60 586.43,524.17 587.33,524.71 588.24,525.22 589.15,525.74 590.06,526.26 590.97,526.78 591.88,527.28 592.79,527.77 593.70,528.24 594.61,528.68 595.52,529.09 596.43,529.46 597.34,529.83 598.25,530.22 599.16,530.60 600.07,530.94 600.97,531.22 601.88,531.42 602.79,531.51 603.70,531.50 604.61,531.43 605.52,531.33 606.43,531.19 607.34,531.02 608.25,530.83 609.16,530.63 610.07,530.38 610.98,530.03 611.89,529.57 612.80,529.03 613.70,528.41 614.61,527.74 615.52,527.04 616.43,526.31 617.34,525.58 618.25,524.86 619.16,524.11 620.07,523.29 620.98,522.41 621.89,521.50 622.80,520.55 623.71,519.60 624.62,518.64 625.53,517.71 626.43,516.81 627.34,515.96 628.25,515.05 629.16,514.10 630.07,513.13 630.98,512.17 631.89,511.26 632.80,510.42 633.71,509.70 634.62,509.11 635.53,508.69 636.44,508.43 637.35,508.19 638.26,507.98 639.17,507.79 640.07,507.64 640.98,507.53 641.89,507.47 642.80,507.47 643.71,507.53 644.62,507.64 645.53,507.80 646.44,507.98 647.35,508.19 648.26,508.42 649.17,508.66 650.08,508.96 650.99,509.35 651.90,509.80 652.80,510.31 653.71,510.85 654.62,511.42 655.53,511.99 656.44,512.57 657.35,513.17 658.26,513.81 659.17,514.50 660.08,515.26 660.99,516.11 661.90,517.05 662.81,518.21 663.72,519.70 664.63,521.39 665.53,523.16 666.44,524.86 667.35,526.49 668.26,528.14 669.17,529.80 670.08,531.48 670.99,533.17" fill="none" stroke="#f15289" stroke-width="3.0" stroke-linejoin="round"/>
<path d="M405.47,493.64h0.01M408.20,500.50h0.01M410.93,507.24h0.01M413.66,509.53h0.01M416.39,508.55h0.01M419.11,507.47h0.01M421.84,506.60h0.01M424.57,505.76h0.01M427.30,505.30h0.01M430.03,505.57h0.01M432.75,506.58h0.01M435.48,508.07h0.01M438.21,511.03h0.01M440.94,514.02h0.01M443.67,516.54h0.01M446.39,518.75h0.01M449.12,519.53h0.01M451.85,519.06h0.01M454.58,518.10h0.01M457.31,516.91h0.01M460.03,514.98h0.01M462.76,512.65h0.01M465.49,510.54h0.01M468.22,508.46h0.01M470.94,506.52h0.01M473.67,505.32h0.01M476.40,504.82h0.01M479.13,504.44h0.01M481.86,504.25h0.01M484.58,504.46h0.01M487.31,505.44h0.01M490.04,506.79h0.01M492.77,508.21h0.01M495.50,510.07h0.01M498.22,511.97h0.01M500.95,513.39h0.01M503.68,514.55h0.01M506.41,515.52h0.01M509.14,516.21h0.01M511.86,516.73h0.01M514.59,517.15h0.01M517.32,517.35h0.01M520.05,517.32h0.01M522.77,517.23h0.01M525.50,517.11h0.01M528.23,516.93h0.01M530.96,516.63h0.01M533.69,516.33h0.01M536.41,516.12h0.01M539.14,515.98h0.01M541.87,515.85h0.01M544.60,515.68h0.01M547.33,515.47h0.01M550.05,515.25h0.01M552.78,515.05h0.01M555.51,514.86h0.01M558.24,514.68h0.01M560.97,514.60h0.01M563.69,514.71h0.01M566.42,515.06h0.01M569.15,515.55h0.01M571.88,516.23h0.01M574.60,517.37h0.01M577.33,518.74h0.01M580.06,520.17h0.01M582.79,521.84h0.01M585.52,523.60h0.01M588.24,525.22h0.01M590.97,526.78h0.01M593.70,528.24h0.01M596.43,529.46h0.01M599.16,530.60h0.01M601.88,531.42h0.01M604.61,531.43h0.01M607.34,531.02h0.01M610.07,530.38h0.01M612.80,529.03h0.01M615.52,527.04h0.01M618.25,524.86h0.01M620.98,522.41h0.01M623.71,519.60h0.01M626.43,516.81h0.01M629.16,514.10h0.01M631.89,511.26h0.01M634.62,509.11h0.01M637.35,508.19h0.01M640.07,507.64h0.01M642.80,507.47h0.01M645.53,507.80h0.01M648.26,508.42h0.01M650.99,509.35h0.01M653.71,510.85h0.01M656.44,512.57h0.01M659.17,514.50h0.01M661.90,517.05h0.01M664.63,521.39h0.01M667.35,526.49h0.01M670.08,531.48h0.01" stroke="#f15289" stroke-width="3.6" stroke-linecap="round" fill="none"/>
<path d="M215.8,29.50H232.0" stroke="#2f85c0" stroke-width="1.4" stroke-dasharray="4.5,1.5"/>
<path d="M222.8,29.50l1.3,-1.3l1.3,1.3l-1.3,1.3z" fill="#2f85c0"/>
<text x="238.2" y="32.30" font-size="8.05">Maize KN1 peaks</text>
<path d="M215.8,40.90H232.0" stroke="#f15289" stroke-width="1.4" stroke-dasharray="4.5,1.5"/>
<path d="M222.8,40.90l1.3,-1.3l1.3,1.3l-1.3,1.3z" fill="#f15289"/>
<text x="238.2" y="43.70" font-size="8.05">Maize randomized peaks</text>
<path d="M547.1999999999999,29.50H563.4" stroke="#2f85c0" stroke-width="1.4" stroke-dasharray="4.5,1.5"/>
<path d="M554.1999999999999,29.50l1.3,-1.3l1.3,1.3l-1.3,1.3z" fill="#2f85c0"/>
<text x="570.0" y="32.30" font-size="8.05">Rice OSH1 peaks</text>
<path d="M547.1999999999999,41.00H563.4" stroke="#f15289" stroke-width="1.4" stroke-dasharray="4.5,1.5"/>
<path d="M554.1999999999999,41.00l1.3,-1.3l1.3,1.3l-1.3,1.3z" fill="#f15289"/>
<text x="570.0" y="43.80" font-size="8.05">Rice OSH1 randomized peaks</text>
<path d="M46.9,376.20H63.1" stroke="#2f85c0" stroke-width="1.4" stroke-dasharray="4.5,1.5"/>
<path d="M53.9,376.20l1.3,-1.3l1.3,1.3l-1.3,1.3z" fill="#2f85c0"/>
<text x="69.4" y="373.80" font-size="8.05" xml:space="preserve">Maize core</text>
<text x="69.4" y="382.30" font-size="8.05" xml:space="preserve"> promoter regions</text>
<path d="M46.9,395.90H63.1" stroke="#f15289" stroke-width="1.4" stroke-dasharray="4.5,1.5"/>
<path d="M53.9,395.90l1.3,-1.3l1.3,1.3l-1.3,1.3z" fill="#f15289"/>
<text x="69.4" y="393.50" font-size="8.05" xml:space="preserve">Maize control</text>
<text x="69.4" y="402.00" font-size="8.05" xml:space="preserve"> regions</text>
<path d="M594.5999999999999,376.00H610.8" stroke="#2f85c0" stroke-width="1.4" stroke-dasharray="4.5,1.5"/>
<path d="M601.5999999999999,376.00l1.3,-1.3l1.3,1.3l-1.3,1.3z" fill="#2f85c0"/>
<text x="617.3" y="373.60" font-size="8.05" xml:space="preserve">Sorghum genic</text>
<text x="617.3" y="382.10" font-size="8.05" xml:space="preserve"> proximal regions</text>
<path d="M594.5999999999999,396.00H610.8" stroke="#f15289" stroke-width="1.4" stroke-dasharray="4.5,1.5"/>
<path d="M601.5999999999999,396.00l1.3,-1.3l1.3,1.3l-1.3,1.3z" fill="#f15289"/>
<text x="617.3" y="393.60" font-size="8.05" xml:space="preserve">Sorghum genic</text>
<text x="617.3" y="402.10" font-size="8.05" xml:space="preserve"> distal regions</text>
</svg>
</body></html>
